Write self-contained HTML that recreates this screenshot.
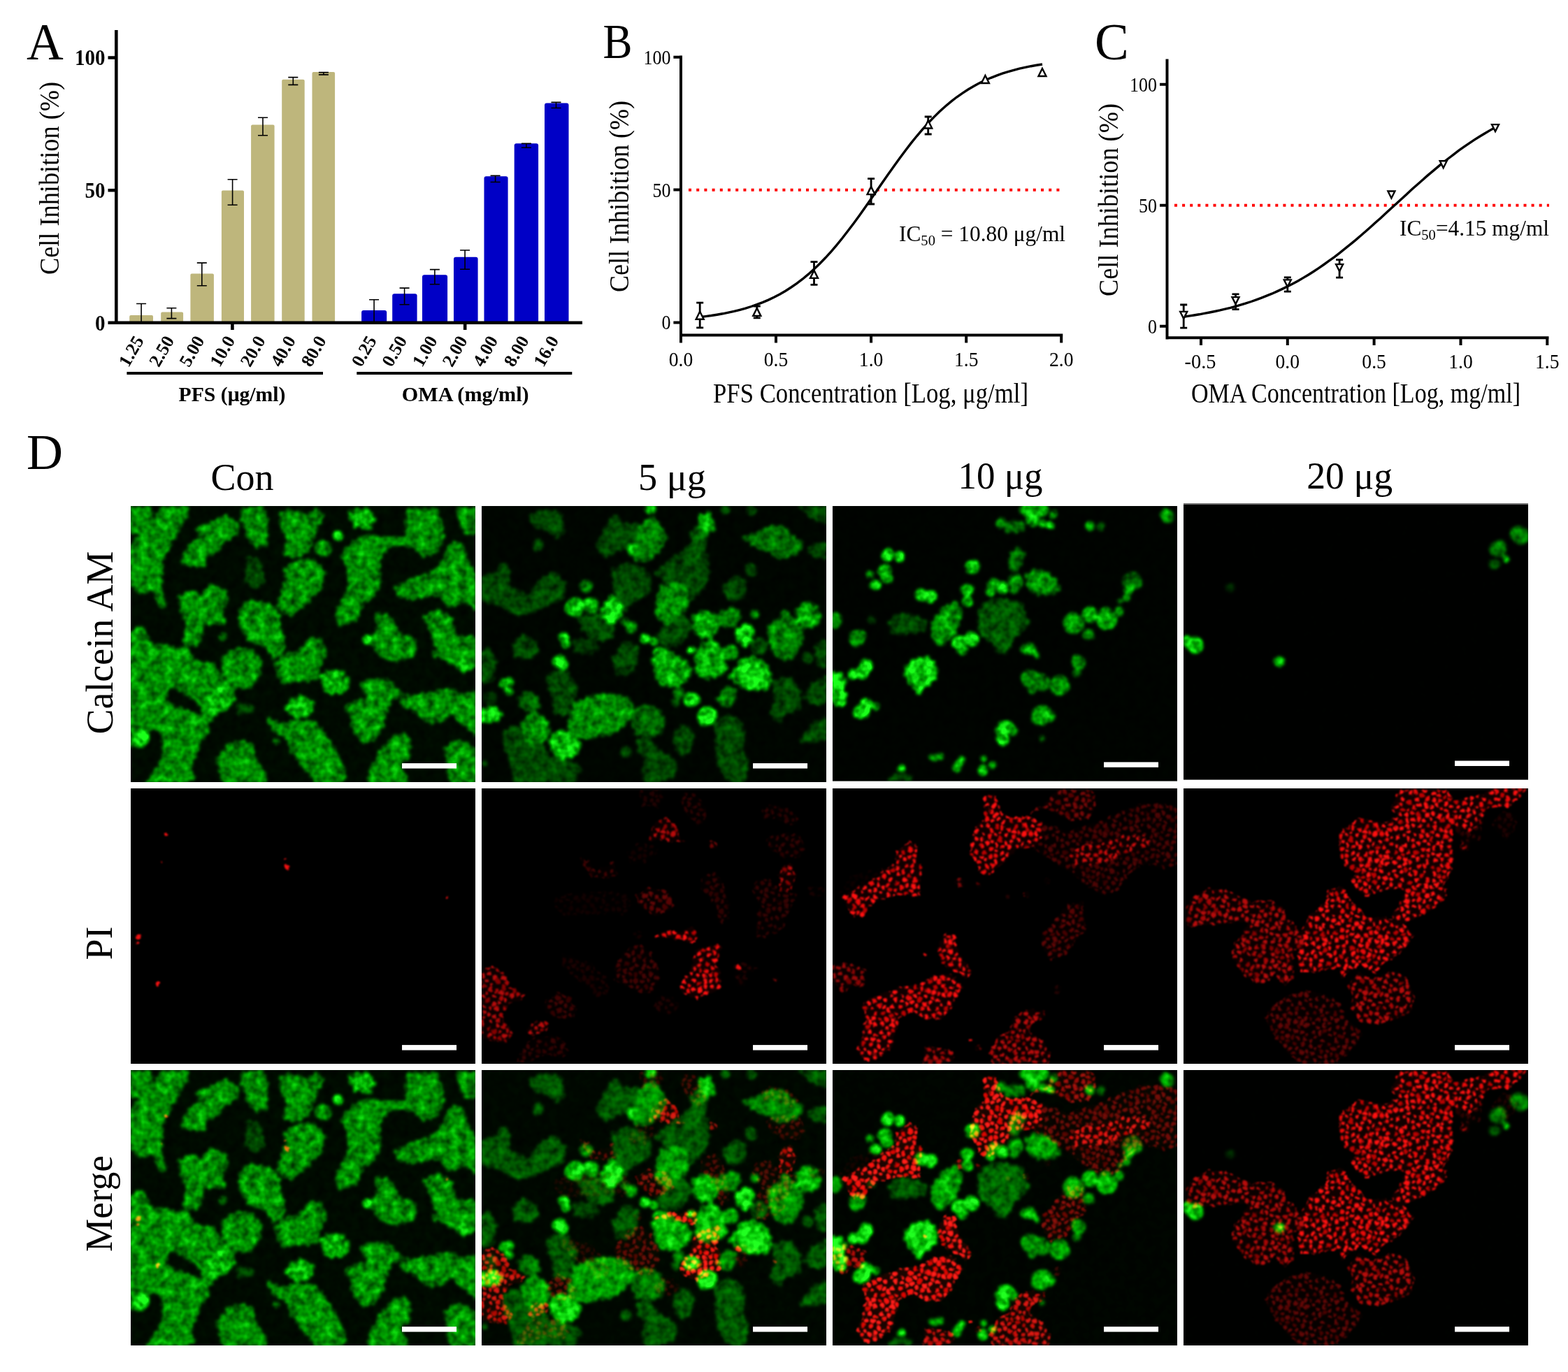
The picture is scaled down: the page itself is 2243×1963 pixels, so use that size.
<!DOCTYPE html>
<html><head><meta charset="utf-8"><title>Figure</title>
<style>html,body{margin:0;padding:0;background:#fff}body{width:2243px;height:1963px;overflow:hidden}svg{display:block}text{font-family:"Liberation Serif",serif;fill:#000}</style></head>
<body>
<svg width="2243" height="1963" viewBox="0 0 2243 1963">
<rect width="2243" height="1963" fill="#fff"/>
<g id="chartA"><rect x="185.2" y="450.9" width="33.8" height="10.9" fill="#beb67c" rx="2"/>
<rect x="230.2" y="446.6" width="31.9" height="15.2" fill="#beb67c" rx="2"/>
<rect x="272.4" y="391.6" width="33.5" height="70.2" fill="#beb67c" rx="2"/>
<rect x="316.9" y="272.5" width="32.1" height="189.3" fill="#beb67c" rx="2"/>
<rect x="359.1" y="178.6" width="33.5" height="283.2" fill="#beb67c" rx="2"/>
<rect x="403.2" y="113.7" width="32.5" height="348.1" fill="#beb67c" rx="2"/>
<rect x="446.5" y="103.1" width="32.6" height="358.7" fill="#beb67c" rx="2"/>
<rect x="517.1" y="443.9" width="36.1" height="17.9" fill="#0000c6" rx="3"/>
<rect x="561.2" y="420.2" width="35.4" height="41.6" fill="#0000c6" rx="3"/>
<rect x="604" y="393.3" width="36.1" height="68.5" fill="#0000c6" rx="3"/>
<rect x="649" y="367.8" width="34.6" height="94.0" fill="#0000c6" rx="3"/>
<rect x="692.5" y="252.2" width="34.1" height="209.6" fill="#0000c6" rx="3"/>
<rect x="735.7" y="205.2" width="34.4" height="256.6" fill="#0000c6" rx="3"/>
<rect x="779" y="147.5" width="34.5" height="314.3" fill="#0000c6" rx="3"/>
<path d="M202.1 434.5V461M195.1 434.5h14M195.1 461h14M245.4 440.8V455.6M238.4 440.8h14M238.4 455.6h14M288.8 376.1V408.7M281.8 376.1h14M281.8 408.7h14M332.6 256.8V293.2M325.6 256.8h14M325.6 293.2h14M376 168.3V193.8M369 168.3h14M369 193.8h14M419.3 110.6V121.4M412.3 110.6h14M412.3 121.4h14M462.9 103.6V106.9M455.9 103.6h14M455.9 106.9h14M535.1 428.7V461M528.1 428.7h14M528.1 461h14M578.6 412.1V435.7M571.6 412.1h14M571.6 435.7h14M621.9 385.6V406.8M614.9 385.6h14M614.9 406.8h14M665.1 358V385.2M658.1 358h14M658.1 385.2h14M708.6 251.4V260.5M701.6 251.4h14M701.6 260.5h14M752.9 205.4V211.3M745.9 205.4h14M745.9 211.3h14M795.5 146.4V154.5M788.5 146.4h14M788.5 154.5h14" stroke="#000" stroke-width="1.6" fill="none"/>
<path d="M166.3 43V464M154.5 461.8H833M154.5 82.5H166M154.5 272.3H166M332.4 461.8V472M665.2 461.8V472" stroke="#000" stroke-width="4.6" fill="none"/>
<path d="M181.4 534H462M510.3 534H818.3" stroke="#000" stroke-width="4" fill="none"/>
<text x="150.5" y="93.2" font-size="31" text-anchor="end" font-weight="bold" textLength="43.5" lengthAdjust="spacingAndGlyphs">100</text>
<text x="150.5" y="283" font-size="31" text-anchor="end" font-weight="bold" textLength="29" lengthAdjust="spacingAndGlyphs">50</text>
<text x="150.5" y="472.5" font-size="31" text-anchor="end" font-weight="bold" textLength="14.5" lengthAdjust="spacingAndGlyphs">0</text>
<text x="83.7" y="255" font-size="41" text-anchor="middle" textLength="276" lengthAdjust="spacingAndGlyphs" transform="rotate(-90 83.7 255)">Cell Inhibition (%)</text>
<text x="206.6" y="487" font-size="26" text-anchor="end" font-weight="bold" transform="rotate(-60 206.6 487)">1.25</text>
<text x="249.9" y="487" font-size="26" text-anchor="end" font-weight="bold" transform="rotate(-60 249.9 487)">2.50</text>
<text x="293.3" y="487" font-size="26" text-anchor="end" font-weight="bold" transform="rotate(-60 293.3 487)">5.00</text>
<text x="337.1" y="487" font-size="26" text-anchor="end" font-weight="bold" transform="rotate(-60 337.1 487)">10.0</text>
<text x="380.5" y="487" font-size="26" text-anchor="end" font-weight="bold" transform="rotate(-60 380.5 487)">20.0</text>
<text x="423.8" y="487" font-size="26" text-anchor="end" font-weight="bold" transform="rotate(-60 423.8 487)">40.0</text>
<text x="467.4" y="487" font-size="26" text-anchor="end" font-weight="bold" transform="rotate(-60 467.4 487)">80.0</text>
<text x="539.6" y="487" font-size="26" text-anchor="end" font-weight="bold" transform="rotate(-60 539.6 487)">0.25</text>
<text x="583.1" y="487" font-size="26" text-anchor="end" font-weight="bold" transform="rotate(-60 583.1 487)">0.50</text>
<text x="626.4" y="487" font-size="26" text-anchor="end" font-weight="bold" transform="rotate(-60 626.4 487)">1.00</text>
<text x="669.6" y="487" font-size="26" text-anchor="end" font-weight="bold" transform="rotate(-60 669.6 487)">2.00</text>
<text x="713.1" y="487" font-size="26" text-anchor="end" font-weight="bold" transform="rotate(-60 713.1 487)">4.00</text>
<text x="757.4" y="487" font-size="26" text-anchor="end" font-weight="bold" transform="rotate(-60 757.4 487)">8.00</text>
<text x="800.0" y="487" font-size="26" text-anchor="end" font-weight="bold" transform="rotate(-60 800.0 487)">16.0</text>
<text x="332" y="574" font-size="30" text-anchor="middle" font-weight="bold" textLength="153" lengthAdjust="spacingAndGlyphs">PFS (μg/ml)</text>
<text x="665.7" y="574" font-size="30" text-anchor="middle" font-weight="bold" textLength="182" lengthAdjust="spacingAndGlyphs">OMA (mg/ml)</text>
<text x="38" y="84.5" font-size="73">A</text></g>
<g id="chartB"><path d="M985 271.7H1520" stroke="#ff0000" stroke-width="4" stroke-dasharray="4 7.2" fill="none"/>
<path d="M974 79.6V481.6M974 479.5H1520.3M963.4 461.4H974M963.4 271.6H974M963.4 81.8H974M974.0 479.5V490.5M1110.0 479.5V490.5M1246.1 479.5V490.5M1382.2 479.5V490.5M1518.2 479.5V490.5" stroke="#000" stroke-width="4" fill="none"/>
<path d="M1001.2 453.6L1009.4 452.6L1017.5 451.5L1025.7 450.2L1033.9 448.8L1042.0 447.2L1050.2 445.4L1058.4 443.3L1066.5 441.1L1074.7 438.5L1082.8 435.7L1091.0 432.6L1099.2 429.1L1107.3 425.2L1115.5 420.9L1123.7 416.2L1131.8 411.0L1140.0 405.4L1148.1 399.2L1156.3 392.4L1164.5 385.1L1172.6 377.2L1180.8 368.8L1189.0 359.8L1197.1 350.3L1205.3 340.3L1213.4 329.8L1221.6 319.0L1229.8 307.7L1237.9 296.2L1246.1 284.6L1254.3 272.8L1262.4 261.0L1270.6 249.3L1278.8 237.7L1286.9 226.5L1295.1 215.5L1303.2 204.9L1311.4 194.8L1319.6 185.2L1327.7 176.1L1335.9 167.6L1344.1 159.6L1352.2 152.2L1360.4 145.4L1368.5 139.0L1376.7 133.3L1384.9 128.0L1393.0 123.2L1401.2 118.8L1409.4 114.8L1417.5 111.3L1425.7 108.1L1433.8 105.2L1442.0 102.6L1450.2 100.3L1458.3 98.2L1466.5 96.4L1474.7 94.7L1482.8 93.3L1491.0 92.0" stroke="#000" stroke-width="3.4" fill="none"/>
<path d="M1001.2 433.2V468.8M996.2 433.2h10M996.2 468.8h10M1082.8 438V454.8M1077.8 438h10M1077.8 454.8h10M1164.5 374.7V407.4M1159.5 374.7h10M1159.5 407.4h10M1246.1 255.7V292M1241.1 255.7h10M1241.1 292h10M1327.7 167V192M1322.7 167h10M1322.7 192h10" stroke="#000" stroke-width="2.8" fill="none"/>
<path d="M1001.2 445.8l5.5 11h-11zM1082.8 440.9l5.5 11h-11zM1164.5 386.9l5.5 11h-11zM1246.1 267.1l5.5 11h-11zM1327.7 172.5l5.5 11h-11zM1409.4 108.0l5.5 11h-11zM1491.0 98.0l5.5 11h-11z" stroke="#000" stroke-width="2.4" fill="#fff" stroke-linejoin="miter"/>
<text x="959.5" y="91.8" font-size="29" text-anchor="end" textLength="39" lengthAdjust="spacingAndGlyphs">100</text>
<text x="959.5" y="281.6" font-size="29" text-anchor="end" textLength="26" lengthAdjust="spacingAndGlyphs">50</text>
<text x="959.5" y="471.4" font-size="29" text-anchor="end" textLength="13" lengthAdjust="spacingAndGlyphs">0</text>
<text x="974.0" y="523.6" font-size="30" text-anchor="middle" textLength="34.5" lengthAdjust="spacingAndGlyphs">0.0</text>
<text x="1110.0" y="523.6" font-size="30" text-anchor="middle" textLength="34.5" lengthAdjust="spacingAndGlyphs">0.5</text>
<text x="1246.1" y="523.6" font-size="30" text-anchor="middle" textLength="34.5" lengthAdjust="spacingAndGlyphs">1.0</text>
<text x="1382.2" y="523.6" font-size="30" text-anchor="middle" textLength="34.5" lengthAdjust="spacingAndGlyphs">1.5</text>
<text x="1518.2" y="523.6" font-size="30" text-anchor="middle" textLength="34.5" lengthAdjust="spacingAndGlyphs">2.0</text>
<text x="1245.5" y="575.6" font-size="39" text-anchor="middle" textLength="451" lengthAdjust="spacingAndGlyphs">PFS Concentration [Log, μg/ml]</text>
<text x="899" y="281" font-size="41" text-anchor="middle" textLength="274" lengthAdjust="spacingAndGlyphs" transform="rotate(-90 899 281)">Cell Inhibition (%)</text>
<text x="1286" y="344.5" font-size="32" textLength="238" lengthAdjust="spacingAndGlyphs">IC<tspan font-size="21" dy="6">50</tspan><tspan dy="-6"> = 10.80 μg/ml</tspan></text>
<text x="862.5" y="82.5" font-size="70" textLength="42" lengthAdjust="spacingAndGlyphs">B</text></g>
<g id="chartC"><path d="M1680 293.7H2216" stroke="#ff0000" stroke-width="4" stroke-dasharray="4 7.1" fill="none"/>
<path d="M1669.5 84.5V485.40000000000003M1669.5 483.3H2215.5M1659 466.7H1669.5M1659 293.7H1669.5M1659 120.7H1669.5M1718.0 483.3V494M1841.8 483.3V494M1965.6 483.3V494M2089.5 483.3V494M2213.3 483.3V494" stroke="#000" stroke-width="4" fill="none"/>
<path d="M1693.2 453.2L1700.6 452.1L1708.0 451.0L1715.5 449.8L1722.9 448.4L1730.3 447.0L1737.8 445.5L1745.2 443.9L1752.6 442.1L1760.1 440.3L1767.5 438.3L1774.9 436.2L1782.4 433.9L1789.8 431.5L1797.2 428.9L1804.6 426.2L1812.1 423.2L1819.5 420.2L1826.9 416.9L1834.4 413.4L1841.8 409.8L1849.2 405.9L1856.7 401.9L1864.1 397.6L1871.5 393.2L1879.0 388.5L1886.4 383.6L1893.8 378.5L1901.2 373.2L1908.7 367.8L1916.1 362.1L1923.5 356.2L1931.0 350.2L1938.4 344.1L1945.8 337.7L1953.3 331.3L1960.7 324.7L1968.1 318.1L1975.6 311.4L1983.0 304.6L1990.4 297.8L1997.9 291.0L2005.3 284.2L2012.7 277.4L2020.1 270.6L2027.6 264.0L2035.0 257.4L2042.4 250.9L2049.9 244.6L2057.3 238.4L2064.7 232.3L2072.2 226.5L2079.6 220.8L2087.0 215.2L2094.5 209.9L2101.9 204.8L2109.3 199.9L2116.7 195.2L2124.2 190.7L2131.6 186.4L2139.0 182.3" stroke="#000" stroke-width="3.4" fill="none"/>
<path d="M1693.2 436V469.2M1688.2 436h10M1688.2 469.2h10M1767.5 420.9V442.6M1762.5 420.9h10M1762.5 442.6h10M1841.8 396.8V417.1M1836.8 396.8h10M1836.8 417.1h10M1916.1 371.6V397.1M1911.1 371.6h10M1911.1 397.1h10" stroke="#000" stroke-width="2.8" fill="none"/>
<path d="M1693.2 455.9l5 -10h-10zM1767.5 435.1l5 -10h-10zM1841.8 410.4l5 -10h-10zM1916.1 388.1l5 -10h-10zM1990.4 283.5l5 -10h-10zM2064.7 240.2l5 -10h-10zM2139.0 188.1l5 -10h-10z" stroke="#000" stroke-width="2.4" fill="#fff" stroke-linejoin="miter"/>
<text x="1655" y="130.7" font-size="29" text-anchor="end" textLength="39" lengthAdjust="spacingAndGlyphs">100</text>
<text x="1655" y="303.7" font-size="29" text-anchor="end" textLength="26" lengthAdjust="spacingAndGlyphs">50</text>
<text x="1655" y="476.7" font-size="29" text-anchor="end" textLength="13" lengthAdjust="spacingAndGlyphs">0</text>
<text x="1717.0" y="527.2" font-size="30" text-anchor="middle" textLength="45" lengthAdjust="spacingAndGlyphs">-0.5</text>
<text x="1841.8" y="527.2" font-size="30" text-anchor="middle" textLength="34.5" lengthAdjust="spacingAndGlyphs">0.0</text>
<text x="1965.6" y="527.2" font-size="30" text-anchor="middle" textLength="34.5" lengthAdjust="spacingAndGlyphs">0.5</text>
<text x="2089.5" y="527.2" font-size="30" text-anchor="middle" textLength="34.5" lengthAdjust="spacingAndGlyphs">1.0</text>
<text x="2213.3" y="527.2" font-size="30" text-anchor="middle" textLength="34.5" lengthAdjust="spacingAndGlyphs">1.5</text>
<text x="1939.5" y="575.6" font-size="39" text-anchor="middle" textLength="471" lengthAdjust="spacingAndGlyphs">OMA Concentration [Log, mg/ml]</text>
<text x="1598.5" y="286" font-size="41" text-anchor="middle" textLength="276" lengthAdjust="spacingAndGlyphs" transform="rotate(-90 1598.5 286)">Cell Inhibition (%)</text>
<text x="2002" y="337" font-size="32" textLength="214" lengthAdjust="spacingAndGlyphs">IC<tspan font-size="21" dy="6">50</tspan><tspan dy="-6">=4.15 mg/ml</tspan></text>
<text x="1566" y="84.5" font-size="73">C</text></g>
<g id="labelsD"><text x="38" y="671" font-size="72">D</text>
<text x="346.5" y="701" font-size="54" text-anchor="middle">Con</text>
<text x="961.5" y="701" font-size="54" text-anchor="middle" textLength="97" lengthAdjust="spacingAndGlyphs">5 μg</text>
<text x="1431" y="699" font-size="54" text-anchor="middle" textLength="121" lengthAdjust="spacingAndGlyphs">10 μg</text>
<text x="1930.7" y="699" font-size="54" text-anchor="middle" textLength="123" lengthAdjust="spacingAndGlyphs">20 μg</text>
<text x="161" y="919.5" font-size="54" text-anchor="middle" textLength="262" lengthAdjust="spacingAndGlyphs" transform="rotate(-90 161 919.5)">Calcein AM</text>
<text x="160" y="1349.5" font-size="54" text-anchor="middle" transform="rotate(-90 160 1349.5)">PI</text>
<text x="160" y="1722" font-size="54" text-anchor="middle" textLength="138" lengthAdjust="spacingAndGlyphs" transform="rotate(-90 160 1722)">Merge</text></g>
<defs><pattern id="rd" width="480" height="480" patternUnits="userSpaceOnUse"><rect width="480" height="480" fill="#100000"/><path d="M432 224a11 11 0 1 0 23 0a11 11 0 1 0 -23 0M32 146a13 13 0 1 0 26 0a13 13 0 1 0 -26 0M32 389a11 11 0 1 0 23 0a11 11 0 1 0 -23 0M320 20a13 13 0 1 0 26 0a13 13 0 1 0 -26 0M303 295a11 11 0 1 0 21 0a11 11 0 1 0 -21 0M207 134a12 12 0 1 0 25 0a12 12 0 1 0 -25 0M140 110a11 11 0 1 0 22 0a11 11 0 1 0 -22 0M127 34a12 12 0 1 0 23 0a12 12 0 1 0 -23 0M354 192a14 14 0 1 0 27 0a14 14 0 1 0 -27 0M395 186a11 11 0 1 0 22 0a11 11 0 1 0 -22 0M-13 101a14 14 0 1 0 27 0a14 14 0 1 0 -27 0M467 101a14 14 0 1 0 27 0a14 14 0 1 0 -27 0M-21 191a12 12 0 1 0 24 0a12 12 0 1 0 -24 0M459 191a12 12 0 1 0 24 0a12 12 0 1 0 -24 0M35 29a14 14 0 1 0 28 0a14 14 0 1 0 -28 0M80 351a12 12 0 1 0 23 0a12 12 0 1 0 -23 0M45 202a11 11 0 1 0 22 0a11 11 0 1 0 -22 0M132 425a14 14 0 1 0 27 0a14 14 0 1 0 -27 0M400 308a10 10 0 1 0 21 0a10 10 0 1 0 -21 0M107 91a13 13 0 1 0 26 0a13 13 0 1 0 -26 0M344 451a11 11 0 1 0 21 0a11 11 0 1 0 -21 0M81 456a13 13 0 1 0 27 0a13 13 0 1 0 -27 0M192 50a11 11 0 1 0 21 0a11 11 0 1 0 -21 0M276 141a10 10 0 1 0 21 0a10 10 0 1 0 -21 0M22 110a11 11 0 1 0 23 0a11 11 0 1 0 -23 0M429 98a11 11 0 1 0 22 0a11 11 0 1 0 -22 0M262 63a12 12 0 1 0 25 0a12 12 0 1 0 -25 0M-21 315a12 12 0 1 0 24 0a12 12 0 1 0 -24 0M459 315a12 12 0 1 0 24 0a12 12 0 1 0 -24 0M-2 437a11 11 0 1 0 21 0a11 11 0 1 0 -21 0M478 437a11 11 0 1 0 21 0a11 11 0 1 0 -21 0M343 338a11 11 0 1 0 21 0a11 11 0 1 0 -21 0M159 329a10 10 0 1 0 20 0a10 10 0 1 0 -20 0M404 275a10 10 0 1 0 20 0a10 10 0 1 0 -20 0M290 184a10 10 0 1 0 21 0a10 10 0 1 0 -21 0M268 292a11 11 0 1 0 22 0a11 11 0 1 0 -22 0M343 279a10 10 0 1 0 20 0a10 10 0 1 0 -20 0M323 239a13 13 0 1 0 25 0a13 13 0 1 0 -25 0M282 442a13 13 0 1 0 26 0a13 13 0 1 0 -26 0M392 407a10 10 0 1 0 21 0a10 10 0 1 0 -21 0M287 237a13 13 0 1 0 26 0a13 13 0 1 0 -26 0M205 12a13 13 0 1 0 27 0a13 13 0 1 0 -27 0M205 492a13 13 0 1 0 27 0a13 13 0 1 0 -27 0M117 166a14 14 0 1 0 27 0a14 14 0 1 0 -27 0M178 380a11 11 0 1 0 21 0a11 11 0 1 0 -21 0M167 273a14 14 0 1 0 27 0a14 14 0 1 0 -27 0M298 344a10 10 0 1 0 20 0a10 10 0 1 0 -20 0M378 31a10 10 0 1 0 21 0a10 10 0 1 0 -21 0M264 96a11 11 0 1 0 21 0a11 11 0 1 0 -21 0M280 13a11 11 0 1 0 22 0a11 11 0 1 0 -22 0M280 493a11 11 0 1 0 22 0a11 11 0 1 0 -22 0M319 155a10 10 0 1 0 21 0a10 10 0 1 0 -21 0M413 64a13 13 0 1 0 27 0a13 13 0 1 0 -27 0M418 422a12 12 0 1 0 24 0a12 12 0 1 0 -24 0M175 431a13 13 0 1 0 25 0a13 13 0 1 0 -25 0M238 450a13 13 0 1 0 26 0a13 13 0 1 0 -26 0M201 321a11 11 0 1 0 23 0a11 11 0 1 0 -23 0M362 255a12 12 0 1 0 24 0a12 12 0 1 0 -24 0M44 428a11 11 0 1 0 22 0a11 11 0 1 0 -22 0M364 300a12 12 0 1 0 24 0a12 12 0 1 0 -24 0M193 177a12 12 0 1 0 24 0a12 12 0 1 0 -24 0M90 318a12 12 0 1 0 24 0a12 12 0 1 0 -24 0M220 225a10 10 0 1 0 21 0a10 10 0 1 0 -21 0M62 399a14 14 0 1 0 28 0a14 14 0 1 0 -28 0M-5 159a14 14 0 1 0 28 0a14 14 0 1 0 -28 0M475 159a14 14 0 1 0 28 0a14 14 0 1 0 -28 0M228 190a13 13 0 1 0 26 0a13 13 0 1 0 -26 0M330 65a12 12 0 1 0 24 0a12 12 0 1 0 -24 0M-17 16a11 11 0 1 0 22 0a11 11 0 1 0 -22 0M463 16a11 11 0 1 0 22 0a11 11 0 1 0 -22 0M18 184a10 10 0 1 0 21 0a10 10 0 1 0 -21 0M61 280a11 11 0 1 0 23 0a11 11 0 1 0 -23 0M39 69a11 11 0 1 0 23 0a11 11 0 1 0 -23 0M65 168a14 14 0 1 0 28 0a14 14 0 1 0 -28 0M7 335a10 10 0 1 0 21 0a10 10 0 1 0 -21 0M241 161a11 11 0 1 0 22 0a11 11 0 1 0 -22 0M396 223a10 10 0 1 0 20 0a10 10 0 1 0 -20 0M426 325a13 13 0 1 0 27 0a13 13 0 1 0 -27 0M313 465a11 11 0 1 0 22 0a11 11 0 1 0 -22 0M378 -5a12 12 0 1 0 24 0a12 12 0 1 0 -24 0M378 475a12 12 0 1 0 24 0a12 12 0 1 0 -24 0M239 128a13 13 0 1 0 25 0a13 13 0 1 0 -25 0M-4 277a12 12 0 1 0 24 0a12 12 0 1 0 -24 0M476 277a12 12 0 1 0 24 0a12 12 0 1 0 -24 0M59 326a12 12 0 1 0 23 0a12 12 0 1 0 -23 0M54 97a12 12 0 1 0 23 0a12 12 0 1 0 -23 0M133 304a12 12 0 1 0 24 0a12 12 0 1 0 -24 0M3 370a11 11 0 1 0 22 0a11 11 0 1 0 -22 0M483 370a11 11 0 1 0 22 0a11 11 0 1 0 -22 0M232 410a13 13 0 1 0 25 0a13 13 0 1 0 -25 0M354 160a11 11 0 1 0 23 0a11 11 0 1 0 -23 0M174 7a10 10 0 1 0 20 0a10 10 0 1 0 -20 0M174 487a10 10 0 1 0 20 0a10 10 0 1 0 -20 0M347 421a14 14 0 1 0 28 0a14 14 0 1 0 -28 0M235 274a13 13 0 1 0 26 0a13 13 0 1 0 -26 0M183 111a10 10 0 1 0 21 0a10 10 0 1 0 -21 0M228 57a12 12 0 1 0 25 0a12 12 0 1 0 -25 0M209 435a14 14 0 1 0 27 0a14 14 0 1 0 -27 0M358 224a11 11 0 1 0 23 0a11 11 0 1 0 -23 0M292 113a10 10 0 1 0 21 0a10 10 0 1 0 -21 0M324 363a11 11 0 1 0 21 0a11 11 0 1 0 -21 0M104 257a14 14 0 1 0 28 0a14 14 0 1 0 -28 0" fill="#ff1010"/><path d="M205 269a12 12 0 1 0 23 0a12 12 0 1 0 -23 0M75 246a13 13 0 1 0 27 0a13 13 0 1 0 -27 0M-20 463a12 12 0 1 0 23 0a12 12 0 1 0 -23 0M460 463a12 12 0 1 0 23 0a12 12 0 1 0 -23 0M243 29a10 10 0 1 0 21 0a10 10 0 1 0 -21 0M79 116a12 12 0 1 0 24 0a12 12 0 1 0 -24 0M199 404a12 12 0 1 0 24 0a12 12 0 1 0 -24 0M238 307a11 11 0 1 0 22 0a11 11 0 1 0 -22 0M390 340a13 13 0 1 0 27 0a13 13 0 1 0 -27 0M447 407a13 13 0 1 0 26 0a13 13 0 1 0 -26 0M362 129a12 12 0 1 0 24 0a12 12 0 1 0 -24 0M449 364a14 14 0 1 0 28 0a14 14 0 1 0 -28 0M258 215a11 11 0 1 0 22 0a11 11 0 1 0 -22 0M103 289a14 14 0 1 0 28 0a14 14 0 1 0 -28 0M166 218a13 13 0 1 0 25 0a13 13 0 1 0 -25 0M77 74a11 11 0 1 0 22 0a11 11 0 1 0 -22 0M110 395a13 13 0 1 0 27 0a13 13 0 1 0 -27 0M221 351a10 10 0 1 0 20 0a10 10 0 1 0 -20 0M142 -0a11 11 0 1 0 22 0a11 11 0 1 0 -22 0M142 480a11 11 0 1 0 22 0a11 11 0 1 0 -22 0M26 262a10 10 0 1 0 21 0a10 10 0 1 0 -21 0M375 439a12 12 0 1 0 24 0a12 12 0 1 0 -24 0M407 20a12 12 0 1 0 23 0a12 12 0 1 0 -23 0M-3 65a13 13 0 1 0 25 0a13 13 0 1 0 -25 0M477 65a13 13 0 1 0 25 0a13 13 0 1 0 -25 0M317 96a12 12 0 1 0 24 0a12 12 0 1 0 -24 0M215 86a13 13 0 1 0 26 0a13 13 0 1 0 -26 0M247 380a10 10 0 1 0 21 0a10 10 0 1 0 -21 0M127 350a12 12 0 1 0 25 0a12 12 0 1 0 -25 0M451 252a14 14 0 1 0 28 0a14 14 0 1 0 -28 0M37 351a13 13 0 1 0 26 0a13 13 0 1 0 -26 0M397 112a14 14 0 1 0 28 0a14 14 0 1 0 -28 0M252 247a13 13 0 1 0 26 0a13 13 0 1 0 -26 0M165 137a10 10 0 1 0 20 0a10 10 0 1 0 -20 0M139 192a14 14 0 1 0 27 0a14 14 0 1 0 -27 0M139 263a11 11 0 1 0 21 0a11 11 0 1 0 -21 0M266 335a11 11 0 1 0 21 0a11 11 0 1 0 -21 0M425 464a13 13 0 1 0 26 0a13 13 0 1 0 -26 0M306 416a13 13 0 1 0 26 0a13 13 0 1 0 -26 0M367 380a10 10 0 1 0 21 0a10 10 0 1 0 -21 0M292 43a12 12 0 1 0 24 0a12 12 0 1 0 -24 0M86 423a12 12 0 1 0 24 0a12 12 0 1 0 -24 0M109 130a12 12 0 1 0 25 0a12 12 0 1 0 -25 0M453 134a12 12 0 1 0 25 0a12 12 0 1 0 -25 0M96 11a11 11 0 1 0 23 0a11 11 0 1 0 -23 0M96 491a11 11 0 1 0 23 0a11 11 0 1 0 -23 0M441 286a12 12 0 1 0 23 0a12 12 0 1 0 -23 0M117 457a14 14 0 1 0 27 0a14 14 0 1 0 -27 0M141 380a14 14 0 1 0 28 0a14 14 0 1 0 -28 0M38 233a13 13 0 1 0 25 0a13 13 0 1 0 -25 0M1 402a11 11 0 1 0 22 0a11 11 0 1 0 -22 0M481 402a11 11 0 1 0 22 0a11 11 0 1 0 -22 0M390 148a10 10 0 1 0 21 0a10 10 0 1 0 -21 0M65 45a11 11 0 1 0 22 0a11 11 0 1 0 -22 0M426 184a13 13 0 1 0 25 0a13 13 0 1 0 -25 0M163 169a12 12 0 1 0 24 0a12 12 0 1 0 -24 0" fill="#e80808"/><path d="M291 381a11 11 0 1 0 23 0a11 11 0 1 0 -23 0M64 7a12 12 0 1 0 23 0a12 12 0 1 0 -23 0M64 487a12 12 0 1 0 23 0a12 12 0 1 0 -23 0M4 223a11 11 0 1 0 21 0a11 11 0 1 0 -21 0M22 302a13 13 0 1 0 25 0a13 13 0 1 0 -25 0M369 85a13 13 0 1 0 27 0a13 13 0 1 0 -27 0M87 189a14 14 0 1 0 27 0a14 14 0 1 0 -27 0M266 416a10 10 0 1 0 20 0a10 10 0 1 0 -20 0M408 382a14 14 0 1 0 28 0a14 14 0 1 0 -28 0M334 393a12 12 0 1 0 24 0a12 12 0 1 0 -24 0M442 41a14 14 0 1 0 28 0a14 14 0 1 0 -28 0M117 227a13 13 0 1 0 25 0a13 13 0 1 0 -25 0M421 152a13 13 0 1 0 25 0a13 13 0 1 0 -25 0M167 80a13 13 0 1 0 26 0a13 13 0 1 0 -26 0M32 -8a11 11 0 1 0 21 0a11 11 0 1 0 -21 0M32 472a11 11 0 1 0 21 0a11 11 0 1 0 -21 0M327 125a12 12 0 1 0 25 0a12 12 0 1 0 -25 0M318 201a12 12 0 1 0 24 0a12 12 0 1 0 -24 0M194 462a12 12 0 1 0 25 0a12 12 0 1 0 -25 0M95 48a12 12 0 1 0 24 0a12 12 0 1 0 -24 0M157 39a13 13 0 1 0 25 0a13 13 0 1 0 -25 0M347 5a13 13 0 1 0 27 0a13 13 0 1 0 -27 0M347 485a13 13 0 1 0 27 0a13 13 0 1 0 -27 0M128 66a12 12 0 1 0 24 0a12 12 0 1 0 -24 0M181 245a13 13 0 1 0 25 0a13 13 0 1 0 -25 0M183 349a13 13 0 1 0 26 0a13 13 0 1 0 -26 0" fill="#b80000"/></pattern><filter id="gf" x="0" y="0" width="100%" height="100%" filterUnits="objectBoundingBox" color-interpolation-filters="sRGB"><feTurbulence type="fractalNoise" baseFrequency="0.012" numOctaves="1" seed="3" result="n"/><feDisplacementMap in="SourceGraphic" in2="n" scale="32" xChannelSelector="R" yChannelSelector="G" result="d"/><feGaussianBlur in="d" stdDeviation="8" result="b"/><feTurbulence type="fractalNoise" baseFrequency="0.02" numOctaves="2" seed="11" result="n2"/><feColorMatrix in="n2" type="matrix" values="0 1 0 0 0  0 1 0 0 0  0 1 0 0 0  0 0 0 0 1" result="m"/><feComposite in="b" in2="m" operator="arithmetic" k1="1.7" k2="0.25" k3="0" k4="0" result="t"/><feColorMatrix in="t" type="matrix" values="0 0.3 0 0 -0.2  0 1 0 0 0  0 0.3 0 0 -0.2  0 0 0 0 1"/></filter><filter id="rf" x="0" y="0" width="100%" height="100%" filterUnits="objectBoundingBox" color-interpolation-filters="sRGB"><feTurbulence type="fractalNoise" baseFrequency="0.03" numOctaves="2" seed="5" result="n"/><feDisplacementMap in="SourceGraphic" in2="n" scale="30" xChannelSelector="R" yChannelSelector="G" result="d"/><feGaussianBlur in="d" stdDeviation="4.2"/></filter></defs>
<svg x="187" y="724" width="493" height="395" viewBox="0 0 2048 1641" preserveAspectRatio="none"><rect width="2048" height="1641" fill="#000"/><g id="Lg1" filter="url(#gf)"><rect x="-80" y="-80" width="2208" height="1801" fill="#000900"/><g fill="#004000" stroke="#004000" stroke-linecap="round" stroke-linejoin="round"><path d="M700 310L760 320L790 440L730 490L690 440ZM640 1180L720 1185L720 1220L640 1225Z" stroke-width="6"/><path d="M700 310L760 320L790 440L730 490L690 440ZM640 1180L720 1185L720 1220L640 1225Z" fill="none" stroke-width="28" stroke-dasharray="0 47"/><path d="M700 310L760 320L790 440L730 490L690 440ZM640 1180L720 1185L720 1220L640 1225Z" fill="none" stroke-width="22" stroke-dasharray="0 71" stroke-dashoffset="30"/></g><g fill="#008000" stroke="#008000" stroke-linecap="round" stroke-linejoin="round"><path d="M1450 200L1660 220" fill="none" stroke-width="50"/><path d="M0 10L110 10L120 60L100 130L40 160L0 150ZM200 10L335 10L330 60L260 190L250 200L180 330L175 500L210 570L190 600L160 560L130 500L60 510L0 460L0 260L40 200L150 60ZM560 60L630 100L620 160L540 220L520 260L440 300L430 360L380 350L310 330L330 270L420 170L400 125L470 110ZM670 20L780 10L810 100L800 220L750 240L700 170L660 80ZM900 50L960 30L1040 70L1110 20L1140 60L1080 180L1060 250L990 300L920 280L930 180L900 120ZM1290 250L1400 180L1560 200L1480 300L1470 480L1400 560L1330 680L1240 700L1230 620L1300 520L1300 400L1270 300ZM1650 30L1820 20L1850 170L1810 280L1740 300L1650 200L1640 100ZM1570 480L1650 450L1830 380L1900 230L1960 230L2000 330L2048 420L2048 600L1990 560L1900 600L1850 540L1760 520L1680 550L1600 530ZM1950 20L2048 20L2048 150L2000 160L1960 100ZM920 380L980 330L1100 330L1150 400L1130 480L1060 560L1000 600L940 650L880 600L900 520L930 450ZM290 540L350 510L420 540L470 470L560 500L570 560L530 610L550 690L430 700L420 760L400 830L320 820L340 700L300 620ZM650 620L700 570L830 590L880 650L880 720L910 800L900 870L850 900L790 830L700 780L650 700ZM1470 650L1530 660L1590 760L1680 790L1690 870L1640 900L1560 920L1480 880L1440 800L1460 720ZM1750 660L1830 620L1900 660L1920 770L2048 790L2048 960L1980 980L1900 930L1830 880L1790 760ZM0 760L60 720L130 830L220 840L330 850L380 930L480 940L540 1020L600 1080L610 1140L540 1210L460 1280L420 1180L330 1100L220 1060L200 1150L250 1200L430 1250L460 1350L400 1400L380 1480L350 1560L380 1620L300 1641L100 1641L200 1500L180 1320L100 1330L80 1420L0 1420ZM560 900L620 850L720 860L770 920L760 1010L700 1080L620 1070L550 1000ZM870 940L930 880L1000 880L1060 790L1130 800L1150 870L1120 960L1090 1020L980 1040L920 1050L880 1000ZM1380 1060L1450 1030L1530 1040L1590 1110L1520 1200L1500 1300L1450 1380L1380 1400L1330 1330L1320 1250L1270 1200L1330 1170L1420 1150ZM1600 1120L1700 1130L1800 1110L1900 1090L1960 1130L2048 1110L2048 1350L1990 1300L1900 1220L1850 1280L1780 1290L1700 1230L1620 1190ZM820 1270L900 1300L980 1280L1100 1290L1150 1360L1200 1440L1240 1520L1280 1600L1250 1641L1100 1641L1050 1560L960 1470L940 1380L860 1340ZM520 1500L570 1430L650 1400L720 1430L740 1520L800 1600L800 1641L560 1641L530 1580ZM1480 1470L1570 1370L1640 1360L1660 1420L1600 1530L1640 1641L1420 1641L1430 1560ZM1870 1440L1920 1400L2000 1420L2048 1460L2048 1641L1900 1641L1880 1540Z" stroke-width="6"/><path d="M0 10L110 10L120 60L100 130L40 160L0 150ZM200 10L335 10L330 60L260 190L250 200L180 330L175 500L210 570L190 600L160 560L130 500L60 510L0 460L0 260L40 200L150 60ZM560 60L630 100L620 160L540 220L520 260L440 300L430 360L380 350L310 330L330 270L420 170L400 125L470 110ZM670 20L780 10L810 100L800 220L750 240L700 170L660 80ZM900 50L960 30L1040 70L1110 20L1140 60L1080 180L1060 250L990 300L920 280L930 180L900 120ZM1290 250L1400 180L1560 200L1480 300L1470 480L1400 560L1330 680L1240 700L1230 620L1300 520L1300 400L1270 300ZM1650 30L1820 20L1850 170L1810 280L1740 300L1650 200L1640 100ZM1570 480L1650 450L1830 380L1900 230L1960 230L2000 330L2048 420L2048 600L1990 560L1900 600L1850 540L1760 520L1680 550L1600 530ZM1950 20L2048 20L2048 150L2000 160L1960 100ZM920 380L980 330L1100 330L1150 400L1130 480L1060 560L1000 600L940 650L880 600L900 520L930 450ZM290 540L350 510L420 540L470 470L560 500L570 560L530 610L550 690L430 700L420 760L400 830L320 820L340 700L300 620ZM650 620L700 570L830 590L880 650L880 720L910 800L900 870L850 900L790 830L700 780L650 700ZM1470 650L1530 660L1590 760L1680 790L1690 870L1640 900L1560 920L1480 880L1440 800L1460 720ZM1750 660L1830 620L1900 660L1920 770L2048 790L2048 960L1980 980L1900 930L1830 880L1790 760ZM0 760L60 720L130 830L220 840L330 850L380 930L480 940L540 1020L600 1080L610 1140L540 1210L460 1280L420 1180L330 1100L220 1060L200 1150L250 1200L430 1250L460 1350L400 1400L380 1480L350 1560L380 1620L300 1641L100 1641L200 1500L180 1320L100 1330L80 1420L0 1420ZM560 900L620 850L720 860L770 920L760 1010L700 1080L620 1070L550 1000ZM870 940L930 880L1000 880L1060 790L1130 800L1150 870L1120 960L1090 1020L980 1040L920 1050L880 1000ZM1380 1060L1450 1030L1530 1040L1590 1110L1520 1200L1500 1300L1450 1380L1380 1400L1330 1330L1320 1250L1270 1200L1330 1170L1420 1150ZM1600 1120L1700 1130L1800 1110L1900 1090L1960 1130L2048 1110L2048 1350L1990 1300L1900 1220L1850 1280L1780 1290L1700 1230L1620 1190ZM820 1270L900 1300L980 1280L1100 1290L1150 1360L1200 1440L1240 1520L1280 1600L1250 1641L1100 1641L1050 1560L960 1470L940 1380L860 1340ZM520 1500L570 1430L650 1400L720 1430L740 1520L800 1600L800 1641L560 1641L530 1580ZM1480 1470L1570 1370L1640 1360L1660 1420L1600 1530L1640 1641L1420 1641L1430 1560ZM1870 1440L1920 1400L2000 1420L2048 1460L2048 1641L1900 1641L1880 1540Z" fill="none" stroke-width="28" stroke-dasharray="0 47"/><path d="M0 10L110 10L120 60L100 130L40 160L0 150ZM200 10L335 10L330 60L260 190L250 200L180 330L175 500L210 570L190 600L160 560L130 500L60 510L0 460L0 260L40 200L150 60ZM560 60L630 100L620 160L540 220L520 260L440 300L430 360L380 350L310 330L330 270L420 170L400 125L470 110ZM670 20L780 10L810 100L800 220L750 240L700 170L660 80ZM900 50L960 30L1040 70L1110 20L1140 60L1080 180L1060 250L990 300L920 280L930 180L900 120ZM1290 250L1400 180L1560 200L1480 300L1470 480L1400 560L1330 680L1240 700L1230 620L1300 520L1300 400L1270 300ZM1650 30L1820 20L1850 170L1810 280L1740 300L1650 200L1640 100ZM1570 480L1650 450L1830 380L1900 230L1960 230L2000 330L2048 420L2048 600L1990 560L1900 600L1850 540L1760 520L1680 550L1600 530ZM1950 20L2048 20L2048 150L2000 160L1960 100ZM920 380L980 330L1100 330L1150 400L1130 480L1060 560L1000 600L940 650L880 600L900 520L930 450ZM290 540L350 510L420 540L470 470L560 500L570 560L530 610L550 690L430 700L420 760L400 830L320 820L340 700L300 620ZM650 620L700 570L830 590L880 650L880 720L910 800L900 870L850 900L790 830L700 780L650 700ZM1470 650L1530 660L1590 760L1680 790L1690 870L1640 900L1560 920L1480 880L1440 800L1460 720ZM1750 660L1830 620L1900 660L1920 770L2048 790L2048 960L1980 980L1900 930L1830 880L1790 760ZM0 760L60 720L130 830L220 840L330 850L380 930L480 940L540 1020L600 1080L610 1140L540 1210L460 1280L420 1180L330 1100L220 1060L200 1150L250 1200L430 1250L460 1350L400 1400L380 1480L350 1560L380 1620L300 1641L100 1641L200 1500L180 1320L100 1330L80 1420L0 1420ZM560 900L620 850L720 860L770 920L760 1010L700 1080L620 1070L550 1000ZM870 940L930 880L1000 880L1060 790L1130 800L1150 870L1120 960L1090 1020L980 1040L920 1050L880 1000ZM1380 1060L1450 1030L1530 1040L1590 1110L1520 1200L1500 1300L1450 1380L1380 1400L1330 1330L1320 1250L1270 1200L1330 1170L1420 1150ZM1600 1120L1700 1130L1800 1110L1900 1090L1960 1130L2048 1110L2048 1350L1990 1300L1900 1220L1850 1280L1780 1290L1700 1230L1620 1190ZM820 1270L900 1300L980 1280L1100 1290L1150 1360L1200 1440L1240 1520L1280 1600L1250 1641L1100 1641L1050 1560L960 1470L940 1380L860 1340ZM520 1500L570 1430L650 1400L720 1430L740 1520L800 1600L800 1641L560 1641L530 1580ZM1480 1470L1570 1370L1640 1360L1660 1420L1600 1530L1640 1641L1420 1641L1430 1560ZM1870 1440L1920 1400L2000 1420L2048 1460L2048 1641L1900 1641L1880 1540Z" fill="none" stroke-width="22" stroke-dasharray="0 71" stroke-dashoffset="30"/><path d="M1095 255a50 50 0 1 0 100 0a50 50 0 1 0 -100 0M520 775a25 25 0 1 0 50 0a25 25 0 1 0 -50 0M1780 885a20 20 0 1 0 40 0a20 20 0 1 0 -40 0M1360 1390a25 25 0 1 0 50 0a25 25 0 1 0 -50 0M1620 1490a20 20 0 1 0 40 0a20 20 0 1 0 -40 0M850 1400a20 20 0 1 0 40 0a20 20 0 1 0 -40 0" stroke="none"/></g><g fill="#00a600" stroke="#00a600" stroke-linecap="round" stroke-linejoin="round"><path d="M1300 40L1400 20L1450 80L1420 130L1330 110ZM1130 1010L1180 980L1270 990L1290 1050L1260 1100L1190 1110L1150 1080ZM960 1160L1020 1130L1080 1170L1060 1240L990 1250L920 1210Z" stroke-width="6"/><path d="M1300 40L1400 20L1450 80L1420 130L1330 110ZM1130 1010L1180 980L1270 990L1290 1050L1260 1100L1190 1110L1150 1080ZM960 1160L1020 1130L1080 1170L1060 1240L990 1250L920 1210Z" fill="none" stroke-width="28" stroke-dasharray="0 47"/><path d="M1300 40L1400 20L1450 80L1420 130L1330 110ZM1130 1010L1180 980L1270 990L1290 1050L1260 1100L1190 1110L1150 1080ZM960 1160L1020 1130L1080 1170L1060 1240L990 1250L920 1210Z" fill="none" stroke-width="22" stroke-dasharray="0 71" stroke-dashoffset="30"/><path d="M440 1150a80 80 0 1 0 160 0a80 80 0 1 0 -160 0" stroke="none"/></g><g fill="#00d000" stroke="#00d000" stroke-linecap="round" stroke-linejoin="round"><path d="M1198 175a32 32 0 1 0 64 0a32 32 0 1 0 -64 0M1382 795a28 28 0 1 0 56 0a28 28 0 1 0 -56 0M1950 945a30 30 0 1 0 60 0a30 30 0 1 0 -60 0M10 1380a50 50 0 1 0 100 0a50 50 0 1 0 -100 0" stroke="none"/></g></g><rect x="1612" y="1529" width="324" height="31" fill="#fff"/></svg>
<svg x="187" y="1128" width="493" height="394" viewBox="0 0 2048 1641" preserveAspectRatio="none"><rect width="2048" height="1641" fill="#000"/><g id="Lr1" filter="url(#rf)"><rect x="-80" y="-80" width="2208" height="1801" fill="#000"/><path d="M196 275a9 9 0 1 0 18 0a9 9 0 1 0 -18 0M915 468a13 13 0 1 0 26 0a13 13 0 1 0 -26 0M914 418a6 6 0 1 0 12 0a6 6 0 1 0 -12 0M32 885a16 16 0 1 0 32 0a16 16 0 1 0 -32 0M32 920a8 8 0 1 0 16 0a8 8 0 1 0 -16 0M149 1162a11 11 0 1 0 22 0a11 11 0 1 0 -22 0M1876 648a7 7 0 1 0 14 0a7 7 0 1 0 -14 0M177 436a5 5 0 1 0 10 0a5 5 0 1 0 -10 0" fill="#f01010"/></g><rect x="1612" y="1529" width="324" height="31" fill="#fff"/></svg>
<svg x="187" y="1531" width="493" height="394" viewBox="0 0 2048 1641" preserveAspectRatio="none"><rect width="2048" height="1641" fill="#000"/><use href="#Lg1"/><use href="#Lr1" style="mix-blend-mode:screen"/><rect x="1612" y="1529" width="324" height="31" fill="#fff"/></svg>
<svg x="689" y="724" width="493" height="395" viewBox="0 0 2048 1641" preserveAspectRatio="none"><rect width="2048" height="1641" fill="#000"/><g id="Lg2" filter="url(#gf)"><rect x="-80" y="-80" width="2208" height="1801" fill="#000500"/><g fill="#002a00" stroke="#002a00" stroke-linecap="round" stroke-linejoin="round"><path d="M10 1140a40 40 0 1 0 80 0a40 40 0 1 0 -80 0" stroke="none"/></g><g fill="#002e00" stroke="#002e00" stroke-linecap="round" stroke-linejoin="round"><path d="M550 800L650 790L700 840L640 880L560 860Z" stroke-width="6"/><path d="M550 800L650 790L700 840L640 880L560 860Z" fill="none" stroke-width="28" stroke-dasharray="0 47"/><path d="M550 800L650 790L700 840L640 880L560 860Z" fill="none" stroke-width="22" stroke-dasharray="0 71" stroke-dashoffset="30"/></g><g fill="#003e00" stroke="#003e00" stroke-linecap="round" stroke-linejoin="round"><path d="M1040 400L1100 340L1180 290L1250 230L1330 300L1340 420L1300 520L1240 560L1220 480L1100 450Z" stroke-width="6"/><path d="M1040 400L1100 340L1180 290L1250 230L1330 300L1340 420L1300 520L1240 560L1220 480L1100 450Z" fill="none" stroke-width="28" stroke-dasharray="0 47"/><path d="M1040 400L1100 340L1180 290L1250 230L1330 300L1340 420L1300 520L1240 560L1220 480L1100 450Z" fill="none" stroke-width="22" stroke-dasharray="0 71" stroke-dashoffset="30"/></g><g fill="#004000" stroke="#004000" stroke-linecap="round" stroke-linejoin="round"><path d="M300 60L360 30L460 40L480 150L440 190L400 130L310 110ZM0 430L100 400L130 340L160 380L150 480L280 540L340 450L420 400L490 450L480 540L400 580L300 620L200 640L100 580L0 560ZM740 130L790 60L830 110L920 110L940 200L880 250L800 260L730 300L690 240ZM780 380L850 350L950 370L1000 430L990 520L900 560L850 620L800 530ZM580 660L700 650L780 720L760 780L680 790L600 730ZM190 840L240 770L320 800L330 860L280 900L200 890ZM0 880L50 850L80 930L60 1020L0 1040ZM790 900L850 810L930 840L920 900L880 990L800 990ZM1450 480L1500 420L1560 450L1560 530L1500 560L1450 530ZM1050 770L1120 700L1200 650L1240 720L1200 800L1100 850ZM1740 1050L1830 1030L1890 1100L1880 1200L1800 1230L1770 1290L1720 1230L1760 1150ZM1960 1060L2048 1020L2048 1150L1980 1180L1920 1140ZM1990 830L2048 800L2048 960L2000 940ZM1900 1390L1980 1290L2048 1260L2048 1380L1960 1400ZM1390 1300L1450 1250L1530 1270L1560 1350L1540 1450L1580 1530L1550 1641L1480 1641L1410 1530L1390 1400ZM1160 1340L1210 1300L1250 1360L1240 1450L1180 1480L1150 1420ZM930 1400L980 1370L1030 1440L1090 1480L1150 1530L1140 1600L1050 1641L970 1641L960 1580L980 1500L940 1460ZM140 1350L200 1310L260 1390L340 1420L400 1500L520 1520L580 1570L540 1641L200 1641L180 1520L140 1440ZM390 1020L440 980L520 1000L560 1090L540 1180L500 1240L440 1220L430 1130L400 1080ZM1900 10L2048 10L2048 90L1960 70ZM1950 260L2010 220L2048 230L2048 300L1980 300Z" stroke-width="6"/><path d="M300 60L360 30L460 40L480 150L440 190L400 130L310 110ZM0 430L100 400L130 340L160 380L150 480L280 540L340 450L420 400L490 450L480 540L400 580L300 620L200 640L100 580L0 560ZM740 130L790 60L830 110L920 110L940 200L880 250L800 260L730 300L690 240ZM780 380L850 350L950 370L1000 430L990 520L900 560L850 620L800 530ZM580 660L700 650L780 720L760 780L680 790L600 730ZM190 840L240 770L320 800L330 860L280 900L200 890ZM0 880L50 850L80 930L60 1020L0 1040ZM790 900L850 810L930 840L920 900L880 990L800 990ZM1450 480L1500 420L1560 450L1560 530L1500 560L1450 530ZM1050 770L1120 700L1200 650L1240 720L1200 800L1100 850ZM1740 1050L1830 1030L1890 1100L1880 1200L1800 1230L1770 1290L1720 1230L1760 1150ZM1960 1060L2048 1020L2048 1150L1980 1180L1920 1140ZM1990 830L2048 800L2048 960L2000 940ZM1900 1390L1980 1290L2048 1260L2048 1380L1960 1400ZM1390 1300L1450 1250L1530 1270L1560 1350L1540 1450L1580 1530L1550 1641L1480 1641L1410 1530L1390 1400ZM1160 1340L1210 1300L1250 1360L1240 1450L1180 1480L1150 1420ZM930 1400L980 1370L1030 1440L1090 1480L1150 1530L1140 1600L1050 1641L970 1641L960 1580L980 1500L940 1460ZM140 1350L200 1310L260 1390L340 1420L400 1500L520 1520L580 1570L540 1641L200 1641L180 1520L140 1440ZM390 1020L440 980L520 1000L560 1090L540 1180L500 1240L440 1220L430 1130L400 1080ZM1900 10L2048 10L2048 90L1960 70ZM1950 260L2010 220L2048 230L2048 300L1980 300Z" fill="none" stroke-width="28" stroke-dasharray="0 47"/><path d="M300 60L360 30L460 40L480 150L440 190L400 130L310 110ZM0 430L100 400L130 340L160 380L150 480L280 540L340 450L420 400L490 450L480 540L400 580L300 620L200 640L100 580L0 560ZM740 130L790 60L830 110L920 110L940 200L880 250L800 260L730 300L690 240ZM780 380L850 350L950 370L1000 430L990 520L900 560L850 620L800 530ZM580 660L700 650L780 720L760 780L680 790L600 730ZM190 840L240 770L320 800L330 860L280 900L200 890ZM0 880L50 850L80 930L60 1020L0 1040ZM790 900L850 810L930 840L920 900L880 990L800 990ZM1450 480L1500 420L1560 450L1560 530L1500 560L1450 530ZM1050 770L1120 700L1200 650L1240 720L1200 800L1100 850ZM1740 1050L1830 1030L1890 1100L1880 1200L1800 1230L1770 1290L1720 1230L1760 1150ZM1960 1060L2048 1020L2048 1150L1980 1180L1920 1140ZM1990 830L2048 800L2048 960L2000 940ZM1900 1390L1980 1290L2048 1260L2048 1380L1960 1400ZM1390 1300L1450 1250L1530 1270L1560 1350L1540 1450L1580 1530L1550 1641L1480 1641L1410 1530L1390 1400ZM1160 1340L1210 1300L1250 1360L1240 1450L1180 1480L1150 1420ZM930 1400L980 1370L1030 1440L1090 1480L1150 1530L1140 1600L1050 1641L970 1641L960 1580L980 1500L940 1460ZM140 1350L200 1310L260 1390L340 1420L400 1500L520 1520L580 1570L540 1641L200 1641L180 1520L140 1440ZM390 1020L440 980L520 1000L560 1090L540 1180L500 1240L440 1220L430 1130L400 1080ZM1900 10L2048 10L2048 90L1960 70ZM1950 260L2010 220L2048 230L2048 300L1980 300Z" fill="none" stroke-width="22" stroke-dasharray="0 71" stroke-dashoffset="30"/><path d="M300 235a35 35 0 1 0 70 0a35 35 0 1 0 -70 0M1565 375a40 40 0 1 0 80 0a40 40 0 1 0 -80 0M1420 25a30 30 0 1 0 60 0a30 30 0 1 0 -60 0M1570 25a30 30 0 1 0 60 0a30 30 0 1 0 -60 0M1600 830a50 50 0 1 0 100 0a50 50 0 1 0 -100 0M825 1460a35 35 0 1 0 70 0a35 35 0 1 0 -70 0M1910 905a30 30 0 1 0 60 0a30 30 0 1 0 -60 0M105 360a25 25 0 1 0 50 0a25 25 0 1 0 -50 0M0 1530a20 20 0 1 0 40 0a20 20 0 1 0 -40 0M1120 1170a30 30 0 1 0 60 0a30 30 0 1 0 -60 0" stroke="none"/></g><g fill="#005300" stroke="#005300" stroke-linecap="round" stroke-linejoin="round"><path d="M1250 160L1300 100L1350 120L1330 220L1300 300L1250 280Z" stroke-width="6"/><path d="M1250 160L1300 100L1350 120L1330 220L1300 300L1250 280Z" fill="none" stroke-width="28" stroke-dasharray="0 47"/><path d="M1250 160L1300 100L1350 120L1330 220L1300 300L1250 280Z" fill="none" stroke-width="22" stroke-dasharray="0 71" stroke-dashoffset="30"/></g><g fill="#005a00" stroke="#005a00" stroke-linecap="round" stroke-linejoin="round"><path d="M220 1140L270 1100L330 1130L340 1190L290 1220L230 1200ZM890 1240L950 1190L1030 1200L1080 1270L1070 1340L1000 1370L920 1350Z" stroke-width="6"/><path d="M220 1140L270 1100L330 1130L340 1190L290 1220L230 1200ZM890 1240L950 1190L1030 1200L1080 1270L1070 1340L1000 1370L920 1350Z" fill="none" stroke-width="28" stroke-dasharray="0 47"/><path d="M220 1140L270 1100L330 1130L340 1190L290 1220L230 1200ZM890 1240L950 1190L1030 1200L1080 1270L1070 1340L1000 1370L920 1350Z" fill="none" stroke-width="22" stroke-dasharray="0 71" stroke-dashoffset="30"/></g><g fill="#006600" stroke="#006600" stroke-linecap="round" stroke-linejoin="round"><path d="M1560 190L1640 170L1700 120L1800 130L1850 190L1900 230L1870 280L1760 310L1700 260L1620 240Z" stroke-width="6"/><path d="M1560 190L1640 170L1700 120L1800 130L1850 190L1900 230L1870 280L1760 310L1700 260L1620 240Z" fill="none" stroke-width="28" stroke-dasharray="0 47"/><path d="M1560 190L1640 170L1700 120L1800 130L1850 190L1900 230L1870 280L1760 310L1700 260L1620 240Z" fill="none" stroke-width="22" stroke-dasharray="0 71" stroke-dashoffset="30"/><path d="M1135 1110a35 35 0 1 0 70 0a35 35 0 1 0 -70 0M1785 640a25 25 0 1 0 50 0a25 25 0 1 0 -50 0" stroke="none"/></g><g fill="#007300" stroke="#007300" stroke-linecap="round" stroke-linejoin="round"><path d="M940 120L1000 70L1060 110L1090 180L1060 250L1000 310L920 320L890 280L880 240L930 200ZM1710 720L1780 670L1860 670L1900 740L1890 820L1840 900L1770 910L1730 850L1710 780ZM1400 660L1480 610L1540 650L1500 700L1430 710ZM1410 1150L1450 1080L1510 1100L1500 1160L1440 1180Z" stroke-width="6"/><path d="M940 120L1000 70L1060 110L1090 180L1060 250L1000 310L920 320L890 280L880 240L930 200ZM1710 720L1780 670L1860 670L1900 740L1890 820L1840 900L1770 910L1730 850L1710 780ZM1400 660L1480 610L1540 650L1500 700L1430 710ZM1410 1150L1450 1080L1510 1100L1500 1160L1440 1180Z" fill="none" stroke-width="28" stroke-dasharray="0 47"/><path d="M940 120L1000 70L1060 110L1090 180L1060 250L1000 310L920 320L890 280L880 240L930 200ZM1710 720L1780 670L1860 670L1900 740L1890 820L1840 900L1770 910L1730 850L1710 780ZM1400 660L1480 610L1540 650L1500 700L1430 710ZM1410 1150L1450 1080L1510 1100L1500 1160L1440 1180Z" fill="none" stroke-width="22" stroke-dasharray="0 71" stroke-dashoffset="30"/></g><g fill="#007a00" stroke="#007a00" stroke-linecap="round" stroke-linejoin="round"><path d="M520 1280L560 1180L640 1130L780 1130L870 1150L900 1210L860 1290L780 1340L700 1360L600 1380L520 1340Z" stroke-width="6"/><path d="M520 1280L560 1180L640 1130L780 1130L870 1150L900 1210L860 1290L780 1340L700 1360L600 1380L520 1340Z" fill="none" stroke-width="28" stroke-dasharray="0 47"/><path d="M520 1280L560 1180L640 1130L780 1130L870 1150L900 1210L860 1290L780 1340L700 1360L600 1380L520 1340Z" fill="none" stroke-width="22" stroke-dasharray="0 71" stroke-dashoffset="30"/></g><g fill="#008000" stroke="#008000" stroke-linecap="round" stroke-linejoin="round"><path d="M1070 480L1150 460L1220 500L1220 600L1170 650L1100 700L1050 650L1050 560ZM250 1290L300 1230L370 1260L400 1330L370 1400L300 1420L250 1370Z" stroke-width="6"/><path d="M1070 480L1150 460L1220 500L1220 600L1170 650L1100 700L1050 650L1050 560ZM250 1290L300 1230L370 1260L400 1330L370 1400L300 1420L250 1370Z" fill="none" stroke-width="28" stroke-dasharray="0 47"/><path d="M1070 480L1150 460L1220 500L1220 600L1170 650L1100 700L1050 650L1050 560ZM250 1290L300 1230L370 1260L400 1330L370 1400L300 1420L250 1370Z" fill="none" stroke-width="22" stroke-dasharray="0 71" stroke-dashoffset="30"/><path d="M1595 640a25 25 0 1 0 50 0a25 25 0 1 0 -50 0M585 480a35 35 0 1 0 70 0a35 35 0 1 0 -70 0M855 720a35 35 0 1 0 70 0a35 35 0 1 0 -70 0M825 690a25 25 0 1 0 50 0a25 25 0 1 0 -50 0" stroke="none"/></g><g fill="#008f00" stroke="#008f00" stroke-linecap="round" stroke-linejoin="round"><path d="M1880 620L1930 570L1990 600L2010 660L1980 710L1920 720L1880 680Z" stroke-width="6"/><path d="M1880 620L1930 570L1990 600L2010 660L1980 710L1920 720L1880 680Z" fill="none" stroke-width="28" stroke-dasharray="0 47"/><path d="M1880 620L1930 570L1990 600L2010 660L1980 710L1920 720L1880 680Z" fill="none" stroke-width="22" stroke-dasharray="0 71" stroke-dashoffset="30"/><path d="M1435 870a45 45 0 1 0 90 0a45 45 0 1 0 -90 0" stroke="none"/></g><g fill="#009700" stroke="#009700" stroke-linecap="round" stroke-linejoin="round"><path d="M1020 920L1060 860L1130 880L1200 920L1240 980L1220 1040L1150 1070L1080 1060L1030 1000ZM1280 900L1310 820L1380 800L1440 880L1450 960L1400 1010L1320 1020L1280 980Z" stroke-width="6"/><path d="M1020 920L1060 860L1130 880L1200 920L1240 980L1220 1040L1150 1070L1080 1060L1030 1000ZM1280 900L1310 820L1380 800L1440 880L1450 960L1400 1010L1320 1020L1280 980Z" fill="none" stroke-width="28" stroke-dasharray="0 47"/><path d="M1020 920L1060 860L1130 880L1200 920L1240 980L1220 1040L1150 1070L1080 1060L1030 1000ZM1280 900L1310 820L1380 800L1440 880L1450 960L1400 1010L1320 1020L1280 980Z" fill="none" stroke-width="22" stroke-dasharray="0 71" stroke-dashoffset="30"/></g><g fill="#009e00" stroke="#009e00" stroke-linecap="round" stroke-linejoin="round"><path d="M1260 660L1310 620L1380 650L1400 720L1360 780L1290 770L1260 720Z" stroke-width="6"/><path d="M1260 660L1310 620L1380 650L1400 720L1360 780L1290 770L1260 720Z" fill="none" stroke-width="28" stroke-dasharray="0 47"/><path d="M1260 660L1310 620L1380 650L1400 720L1360 780L1290 770L1260 720Z" fill="none" stroke-width="22" stroke-dasharray="0 71" stroke-dashoffset="30"/></g><g fill="#00a600" stroke="#00a600" stroke-linecap="round" stroke-linejoin="round"><path d="M1300 60L1350 50L1380 130L1340 150L1300 110Z" stroke-width="6"/><path d="M1300 60L1350 50L1380 130L1340 150L1300 110Z" fill="none" stroke-width="28" stroke-dasharray="0 47"/><path d="M1300 60L1350 50L1380 130L1340 150L1300 110Z" fill="none" stroke-width="22" stroke-dasharray="0 71" stroke-dashoffset="30"/><path d="M605 590a45 45 0 1 0 90 0a45 45 0 1 0 -90 0M100 1060a30 30 0 1 0 60 0a30 30 0 1 0 -60 0M145 1040a25 25 0 1 0 50 0a25 25 0 1 0 -50 0M135 1100a25 25 0 1 0 50 0a25 25 0 1 0 -50 0M940 790a30 30 0 1 0 60 0a30 30 0 1 0 -60 0M995 800a25 25 0 1 0 50 0a25 25 0 1 0 -50 0M970 20a30 30 0 1 0 60 0a30 30 0 1 0 -60 0M872 255a28 28 0 1 0 56 0a28 28 0 1 0 -56 0" stroke="none"/></g><g fill="#00ae00" stroke="#00ae00" stroke-linecap="round" stroke-linejoin="round"><path d="M410 1400L450 1340L530 1350L580 1410L560 1470L490 1500L420 1470Z" stroke-width="6"/><path d="M410 1400L450 1340L530 1350L580 1410L560 1470L490 1500L420 1470Z" fill="none" stroke-width="28" stroke-dasharray="0 47"/><path d="M410 1400L450 1340L530 1350L580 1410L560 1470L490 1500L420 1470Z" fill="none" stroke-width="22" stroke-dasharray="0 71" stroke-dashoffset="30"/></g><g fill="#00b700" stroke="#00b700" stroke-linecap="round" stroke-linejoin="round"><path d="M1480 1010L1540 920L1620 900L1690 950L1720 1020L1690 1080L1620 1090L1540 1070Z" stroke-width="6"/><path d="M1480 1010L1540 920L1620 900L1690 950L1720 1020L1690 1080L1620 1090L1540 1070Z" fill="none" stroke-width="28" stroke-dasharray="0 47"/><path d="M1480 1010L1540 920L1620 900L1690 950L1720 1020L1690 1080L1620 1090L1540 1070Z" fill="none" stroke-width="22" stroke-dasharray="0 71" stroke-dashoffset="30"/><path d="M1020 870a30 30 0 1 0 60 0a30 30 0 1 0 -60 0" stroke="none"/></g><g fill="#00bb00" stroke="#00bb00" stroke-linecap="round" stroke-linejoin="round"><path d="M1205 1150a45 45 0 1 0 90 0a45 45 0 1 0 -90 0M475 820a25 25 0 1 0 50 0a25 25 0 1 0 -50 0M460 950a30 30 0 1 0 60 0a30 30 0 1 0 -60 0" stroke="none"/></g><g fill="#00bf00" stroke="#00bf00" stroke-linecap="round" stroke-linejoin="round"><path d="M1520 740L1570 700L1620 740L1600 800L1560 830L1520 790Z" stroke-width="6"/><path d="M1520 740L1570 700L1620 740L1600 800L1560 830L1520 790Z" fill="none" stroke-width="28" stroke-dasharray="0 47"/><path d="M1520 740L1570 700L1620 740L1600 800L1560 830L1520 790Z" fill="none" stroke-width="22" stroke-dasharray="0 71" stroke-dashoffset="30"/><path d="M500 600a55 55 0 1 0 110 0a55 55 0 1 0 -110 0" stroke="none"/></g><g fill="#00c800" stroke="#00c800" stroke-linecap="round" stroke-linejoin="round"><path d="M720 620L770 540L830 590L820 660L780 700L720 670Z" stroke-width="6"/><path d="M720 620L770 540L830 590L820 660L780 700L720 670Z" fill="none" stroke-width="28" stroke-dasharray="0 47"/><path d="M720 620L770 540L830 590L820 660L780 700L720 670Z" fill="none" stroke-width="22" stroke-dasharray="0 71" stroke-dashoffset="30"/><path d="M420 920a40 40 0 1 0 80 0a40 40 0 1 0 -80 0" stroke="none"/></g><g fill="#00d000" stroke="#00d000" stroke-linecap="round" stroke-linejoin="round"><path d="M0 1210L70 1190L120 1230L100 1270L0 1280Z" stroke-width="6"/><path d="M0 1210L70 1190L120 1230L100 1270L0 1280Z" fill="none" stroke-width="28" stroke-dasharray="0 47"/><path d="M0 1210L70 1190L120 1230L100 1270L0 1280Z" fill="none" stroke-width="22" stroke-dasharray="0 71" stroke-dashoffset="30"/><path d="M462 780a28 28 0 1 0 56 0a28 28 0 1 0 -56 0M1285 1250a55 55 0 1 0 110 0a55 55 0 1 0 -110 0M1225 860a25 25 0 1 0 50 0a25 25 0 1 0 -50 0" stroke="none"/></g></g><rect x="1612" y="1529" width="324" height="31" fill="#fff"/></svg>
<svg x="689" y="1128" width="493" height="394" viewBox="0 0 2048 1641" preserveAspectRatio="none"><rect width="2048" height="1641" fill="#000"/><g id="Lr2" filter="url(#rf)"><rect x="-80" y="-80" width="2208" height="1801" fill="#000"/><g fill="url(#rd)" stroke="url(#rd)" stroke-linecap="round" stroke-linejoin="round" opacity="0.07"><path d="M440 660L520 630L700 620L850 630L890 690L850 750L700 740L500 760L440 710Z" stroke-width="10"/></g><g fill="url(#rd)" stroke="url(#rd)" stroke-linecap="round" stroke-linejoin="round" opacity="0.09"><path d="M870 380L920 330L1000 340L1050 370L960 440L880 450ZM1940 590L2040 600L2030 640L1950 630Z" stroke-width="10"/><path d="M900 870a25 25 0 1 0 50 0a25 25 0 1 0 -50 0" stroke="none"/></g><g fill="url(#rd)" stroke="url(#rd)" stroke-linecap="round" stroke-linejoin="round" opacity="0.11"><path d="M480 990L560 1020L640 1040L700 1100L750 1150L740 1220L690 1240L620 1170L540 1110L490 1050Z" stroke-width="10"/></g><g fill="url(#rd)" stroke="url(#rd)" stroke-linecap="round" stroke-linejoin="round" opacity="0.13"><path d="M940 20L1050 10L1080 60L1040 110L960 100ZM1500 1050L1560 1050L1640 1075L1570 1100L1560 1170L1520 1180ZM1020 1290L1060 1240L1140 1250L1170 1300L1120 1340L1050 1330Z" stroke-width="10"/></g><g fill="url(#rd)" stroke="url(#rd)" stroke-linecap="round" stroke-linejoin="round" opacity="0.18"><path d="M1190 40L1260 30L1320 100L1330 170L1280 220L1230 160L1190 100ZM1670 130L1740 100L1840 140L1880 190L1850 220L1760 180L1670 170Z" stroke-width="10"/></g><g fill="url(#rd)" stroke="url(#rd)" stroke-linecap="round" stroke-linejoin="round" opacity="0.21"><path d="M1700 300L1780 270L1880 280L1920 350L1880 410L1780 400L1710 350ZM1630 560L1700 540L1780 620L1870 630L1840 700L1800 760L1790 830L1700 880L1640 890L1640 780L1660 680L1620 620ZM1310 540L1380 500L1430 560L1440 640L1470 700L1460 780L1420 800L1400 720L1360 650L1310 600ZM300 1490L380 1480L450 1480L510 1560L480 1600L400 1580L330 1600L260 1637L210 1620L240 1570Z" stroke-width="10"/></g><g fill="url(#rd)" stroke="url(#rd)" stroke-linecap="round" stroke-linejoin="round" opacity="0.27"><path d="M590 420L640 440L670 500L740 470L780 440L800 510L750 530L660 525L600 450ZM850 980L930 930L1000 980L1040 1060L1050 1130L1020 1210L950 1220L860 1170L790 1140L800 1060ZM380 1270L450 1220L520 1250L560 1320L530 1370L440 1360L380 1320Z" stroke-width="10"/></g><g fill="url(#rd)" stroke="url(#rd)" stroke-linecap="round" stroke-linejoin="round" opacity="0.38"><path d="M920 640L990 600L1100 610L1140 700L1060 750L1000 740L930 680Z" stroke-width="10"/></g><g fill="url(#rd)" stroke="url(#rd)" stroke-linecap="round" stroke-linejoin="round" opacity="0.46"><path d="M1350 335a25 25 0 1 0 50 0a25 25 0 1 0 -50 0M1727 1140a18 18 0 1 0 36 0a18 18 0 1 0 -36 0" stroke="none"/></g><g fill="url(#rd)" stroke="url(#rd)" stroke-linecap="round" stroke-linejoin="round" opacity="0.71"><path d="M1040 200L1100 180L1150 230L1170 280L1200 320L1100 310L1000 300L1020 250ZM1790 470L1840 450L1860 520L1840 600L1780 610L1770 540ZM0 1100L60 1060L140 1110L160 1180L250 1220L240 1260L170 1270L120 1330L130 1400L180 1450L150 1510L60 1500L0 1480ZM270 1440L320 1390L390 1400L380 1440L300 1470Z" stroke-width="10"/></g><g fill="url(#rd)" stroke="url(#rd)" stroke-linecap="round" stroke-linejoin="round" opacity="1.0"><path d="M1040 880L1090 850L1180 860L1250 830L1280 880L1260 920L1190 900L1100 880ZM1270 970L1400 930L1420 960L1390 1050L1420 1130L1410 1190L1350 1220L1280 1250L1200 1220L1180 1170L1230 1110L1260 1050Z" stroke-width="10"/></g><path d="M1508 1065a17 17 0 1 0 34 0a17 17 0 1 0 -34 0" fill="#f01010"/></g><rect x="1612" y="1529" width="324" height="31" fill="#fff"/></svg>
<svg x="689" y="1531" width="493" height="394" viewBox="0 0 2048 1641" preserveAspectRatio="none"><rect width="2048" height="1641" fill="#000"/><use href="#Lg2"/><use href="#Lg2" style="mix-blend-mode:screen" opacity="0.3"/><use href="#Lr2" style="mix-blend-mode:screen"/><use href="#Lr2" style="mix-blend-mode:screen" opacity="0.7"/><rect x="1612" y="1529" width="324" height="31" fill="#fff"/></svg>
<svg x="1191" y="724" width="493" height="393.5" viewBox="0 0 2048 1641" preserveAspectRatio="none"><rect width="2048" height="1641" fill="#000"/><g id="Lg3" filter="url(#gf)"><rect x="-80" y="-80" width="2208" height="1801" fill="#000300"/><g fill="#002a00" stroke="#002a00" stroke-linecap="round" stroke-linejoin="round"><path d="M205 680a25 25 0 1 0 50 0a25 25 0 1 0 -50 0" stroke="none"/></g><g fill="#004000" stroke="#004000" stroke-linecap="round" stroke-linejoin="round"><path d="M340 700L390 650L480 650L540 690L530 745L460 750L365 760ZM340 1637L385 1605L465 1615L475 1637Z" stroke-width="6"/><path d="M340 700L390 650L480 650L540 690L530 745L460 750L365 760ZM340 1637L385 1605L465 1615L475 1637Z" fill="none" stroke-width="28" stroke-dasharray="0 47"/><path d="M340 700L390 650L480 650L540 690L530 745L460 750L365 760ZM340 1637L385 1605L465 1615L475 1637Z" fill="none" stroke-width="22" stroke-dasharray="0 71" stroke-dashoffset="30"/></g><g fill="#004d00" stroke="#004d00" stroke-linecap="round" stroke-linejoin="round"><path d="M875 625L925 570L1050 560L1120 595L1155 690L1110 750L1055 800L1035 870L995 880L975 825L905 790L870 720Z" stroke-width="6"/><path d="M875 625L925 570L1050 560L1120 595L1155 690L1110 750L1055 800L1035 870L995 880L975 825L905 790L870 720Z" fill="none" stroke-width="28" stroke-dasharray="0 47"/><path d="M875 625L925 570L1050 560L1120 595L1155 690L1110 750L1055 800L1035 870L995 880L975 825L905 790L870 720Z" fill="none" stroke-width="22" stroke-dasharray="0 71" stroke-dashoffset="30"/><path d="M1575 125a25 25 0 1 0 50 0a25 25 0 1 0 -50 0M1222 1385a18 18 0 1 0 36 0a18 18 0 1 0 -36 0" stroke="none"/></g><g fill="#006000" stroke="#006000" stroke-linecap="round" stroke-linejoin="round"><path d="M1030 105L1100 90L1140 115L1125 145L1050 155ZM1060 285L1100 260L1130 290L1115 355L1075 390L1050 340Z" stroke-width="6"/><path d="M1030 105L1100 90L1140 115L1125 145L1050 155ZM1060 285L1100 260L1130 290L1115 355L1075 390L1050 340Z" fill="none" stroke-width="28" stroke-dasharray="0 47"/><path d="M1030 105L1100 90L1140 115L1125 145L1050 155ZM1060 285L1100 260L1130 290L1115 355L1075 390L1050 340Z" fill="none" stroke-width="22" stroke-dasharray="0 71" stroke-dashoffset="30"/><path d="M1725 450a55 55 0 1 0 110 0a55 55 0 1 0 -110 0M1692 570a18 18 0 1 0 36 0a18 18 0 1 0 -36 0M1425 990a25 25 0 1 0 50 0a25 25 0 1 0 -50 0M1160 1090a30 30 0 1 0 60 0a30 30 0 1 0 -60 0" stroke="none"/></g><g fill="#007300" stroke="#007300" stroke-linecap="round" stroke-linejoin="round"><path d="M1485 770a35 35 0 1 0 70 0a35 35 0 1 0 -70 0M1115 1030a55 55 0 1 0 110 0a55 55 0 1 0 -110 0M1190 1050a50 50 0 1 0 100 0a50 50 0 1 0 -100 0" stroke="none"/></g><g fill="#008000" stroke="#008000" stroke-linecap="round" stroke-linejoin="round"><path d="M1160 415L1200 380L1280 410L1325 445L1340 500L1305 530L1230 530L1170 495Z" stroke-width="6"/><path d="M1160 415L1200 380L1280 410L1325 445L1340 500L1305 530L1230 530L1170 495Z" fill="none" stroke-width="28" stroke-dasharray="0 47"/><path d="M1160 415L1200 380L1280 410L1325 445L1340 500L1305 530L1230 530L1170 495Z" fill="none" stroke-width="22" stroke-dasharray="0 71" stroke-dashoffset="30"/><path d="M970 100a30 30 0 1 0 60 0a30 30 0 1 0 -60 0M1500 115a30 30 0 1 0 60 0a30 30 0 1 0 -60 0M1950 60a40 40 0 1 0 80 0a40 40 0 1 0 -80 0M1045 450a45 45 0 1 0 90 0a45 45 0 1 0 -90 0M1055 500a25 25 0 1 0 50 0a25 25 0 1 0 -50 0M98 785a50 50 0 1 0 100 0a50 50 0 1 0 -100 0M-35 685a45 45 0 1 0 90 0a45 45 0 1 0 -90 0M1672 630a28 28 0 1 0 56 0a28 28 0 1 0 -56 0M1728 545a22 22 0 1 0 44 0a22 22 0 1 0 -44 0M1190 890a20 20 0 1 0 40 0a20 20 0 1 0 -40 0M1420 930a40 40 0 1 0 80 0a40 40 0 1 0 -80 0" stroke="none"/></g><g fill="#008800" stroke="#008800" stroke-linecap="round" stroke-linejoin="round"><path d="M595 700L655 610L735 580L760 650L740 735L685 790L640 830L600 785Z" stroke-width="6"/><path d="M595 700L655 610L735 580L760 650L740 735L685 790L640 830L600 785Z" fill="none" stroke-width="28" stroke-dasharray="0 47"/><path d="M595 700L655 610L735 580L760 650L740 735L685 790L640 830L600 785Z" fill="none" stroke-width="22" stroke-dasharray="0 71" stroke-dashoffset="30"/><path d="M1290 1070a60 60 0 1 0 120 0a60 60 0 1 0 -120 0" stroke="none"/></g><g fill="#009300" stroke="#009300" stroke-linecap="round" stroke-linejoin="round"><path d="M760 500a40 40 0 1 0 80 0a40 40 0 1 0 -80 0M925 470a35 35 0 1 0 70 0a35 35 0 1 0 -70 0M910 510a30 30 0 1 0 60 0a30 30 0 1 0 -60 0M1185 1250a55 55 0 1 0 110 0a55 55 0 1 0 -110 0M1275 1260a25 25 0 1 0 50 0a25 25 0 1 0 -50 0M570 1500a25 25 0 1 0 50 0a25 25 0 1 0 -50 0M610 1490a25 25 0 1 0 50 0a25 25 0 1 0 -50 0M1285 50a25 25 0 1 0 50 0a25 25 0 1 0 -50 0M1230 100a20 20 0 1 0 40 0a20 20 0 1 0 -40 0M1370 700a60 60 0 1 0 120 0a60 60 0 1 0 -120 0M1590 630a30 30 0 1 0 60 0a30 30 0 1 0 -60 0M1735 500a25 25 0 1 0 50 0a25 25 0 1 0 -50 0M1145 850a35 35 0 1 0 70 0a35 35 0 1 0 -70 0" stroke="none"/></g><g fill="#009700" stroke="#009700" stroke-linecap="round" stroke-linejoin="round"><path d="M1570 680a60 60 0 1 0 120 0a60 60 0 1 0 -120 0" stroke="none"/></g><g fill="#009e00" stroke="#009e00" stroke-linecap="round" stroke-linejoin="round"><path d="M1485 650a45 45 0 1 0 90 0a45 45 0 1 0 -90 0" stroke="none"/></g><g fill="#00a600" stroke="#00a600" stroke-linecap="round" stroke-linejoin="round"><path d="M770 1510L740 1570" fill="none" stroke-width="40"/><path d="M270 380a40 40 0 1 0 80 0a40 40 0 1 0 -80 0M285 430a35 35 0 1 0 70 0a35 35 0 1 0 -70 0M195 410a25 25 0 1 0 50 0a25 25 0 1 0 -50 0M220 470a30 30 0 1 0 60 0a30 30 0 1 0 -60 0M765 570a35 35 0 1 0 70 0a35 35 0 1 0 -70 0M740 860a30 30 0 1 0 60 0a30 30 0 1 0 -60 0M225 1200a25 25 0 1 0 50 0a25 25 0 1 0 -50 0M1040 1340a30 30 0 1 0 60 0a30 30 0 1 0 -60 0M965 1340a25 25 0 1 0 50 0a25 25 0 1 0 -50 0M875 1510a20 20 0 1 0 40 0a20 20 0 1 0 -40 0M928 1550a22 22 0 1 0 44 0a22 22 0 1 0 -44 0M1180 20a50 50 0 1 0 100 0a50 50 0 1 0 -100 0M1150 80a40 40 0 1 0 80 0a40 40 0 1 0 -80 0M1115 855a25 25 0 1 0 50 0a25 25 0 1 0 -50 0" stroke="none"/></g><g fill="#00b700" stroke="#00b700" stroke-linecap="round" stroke-linejoin="round"><path d="M788 360a42 42 0 1 0 84 0a42 42 0 1 0 -84 0" stroke="none"/></g><g fill="#00bb00" stroke="#00bb00" stroke-linecap="round" stroke-linejoin="round"><path d="M440 960L480 920L570 905L605 960L600 1040L560 1070L500 1090L455 1055L435 1010Z" stroke-width="6"/><path d="M440 960L480 920L570 905L605 960L600 1040L560 1070L500 1090L455 1055L435 1010Z" fill="none" stroke-width="28" stroke-dasharray="0 47"/><path d="M440 960L480 920L570 905L605 960L600 1040L560 1070L500 1090L455 1055L435 1010Z" fill="none" stroke-width="22" stroke-dasharray="0 71" stroke-dashoffset="30"/><path d="M975 490a35 35 0 1 0 70 0a35 35 0 1 0 -70 0M710 810a40 40 0 1 0 80 0a40 40 0 1 0 -80 0M990 1320a40 40 0 1 0 80 0a40 40 0 1 0 -80 0M860 1580a30 30 0 1 0 60 0a30 30 0 1 0 -60 0M388 1565a22 22 0 1 0 44 0a22 22 0 1 0 -44 0M1115 20a35 35 0 1 0 70 0a35 35 0 1 0 -70 0" stroke="none"/></g><g fill="#00c800" stroke="#00c800" stroke-linecap="round" stroke-linejoin="round"><path d="M780 795a45 45 0 1 0 90 0a45 45 0 1 0 -90 0" stroke="none"/></g><g fill="#00d000" stroke="#00d000" stroke-linecap="round" stroke-linejoin="round"><path d="M0 1000L45 1000L70 1030L55 1080L80 1140L60 1180L0 1170Z" stroke-width="6"/><path d="M0 1000L45 1000L70 1030L55 1080L80 1140L60 1180L0 1170Z" fill="none" stroke-width="28" stroke-dasharray="0 47"/><path d="M0 1000L45 1000L70 1030L55 1080L80 1140L60 1180L0 1170Z" fill="none" stroke-width="22" stroke-dasharray="0 71" stroke-dashoffset="30"/><path d="M290 290a40 40 0 1 0 80 0a40 40 0 1 0 -80 0M370 305a30 30 0 1 0 60 0a30 30 0 1 0 -60 0M490 530a40 40 0 1 0 80 0a40 40 0 1 0 -80 0M540 540a40 40 0 1 0 80 0a40 40 0 1 0 -80 0M492 1105a18 18 0 1 0 36 0a18 18 0 1 0 -36 0M160 950a40 40 0 1 0 80 0a40 40 0 1 0 -80 0M140 990a40 40 0 1 0 80 0a40 40 0 1 0 -80 0M90 1010a30 30 0 1 0 60 0a30 30 0 1 0 -60 0M165 1180a35 35 0 1 0 70 0a35 35 0 1 0 -70 0M125 1230a45 45 0 1 0 90 0a45 45 0 1 0 -90 0M970 1390a40 40 0 1 0 80 0a40 40 0 1 0 -80 0M1250 1250a20 20 0 1 0 40 0a20 20 0 1 0 -40 0M1268 110a22 22 0 1 0 44 0a22 22 0 1 0 -44 0" stroke="none"/></g></g><rect x="1612" y="1528" width="324" height="31" fill="#fff"/></svg>
<svg x="1191" y="1128" width="493" height="394" viewBox="0 0 2048 1641" preserveAspectRatio="none"><rect width="2048" height="1641" fill="#000"/><g id="Lr3" filter="url(#rf)"><rect x="-80" y="-80" width="2208" height="1801" fill="#000"/><g fill="url(#rd)" stroke="url(#rd)" stroke-linecap="round" stroke-linejoin="round" opacity="0.05"><path d="M40 620L120 520L280 480L260 560L120 620Z" stroke-width="10"/></g><g fill="url(#rd)" stroke="url(#rd)" stroke-linecap="round" stroke-linejoin="round" opacity="0.13"><path d="M1020 640a20 20 0 1 0 40 0a20 20 0 1 0 -40 0M1318 1200a22 22 0 1 0 44 0a22 22 0 1 0 -44 0" stroke="none"/></g><g fill="url(#rd)" stroke="url(#rd)" stroke-linecap="round" stroke-linejoin="round" opacity="0.27"><path d="M1257 550a18 18 0 1 0 36 0a18 18 0 1 0 -36 0" stroke="none"/></g><g fill="url(#rd)" stroke="url(#rd)" stroke-linecap="round" stroke-linejoin="round" opacity="0.3"><path d="M1230 200L1400 260L1600 200L1700 150L1850 90L1980 100L2048 120L2048 450L1960 470L1850 440L1750 520L1700 600L1600 630L1500 560L1380 470L1300 420L1200 360Z" stroke-width="10"/></g><g fill="url(#rd)" stroke="url(#rd)" stroke-linecap="round" stroke-linejoin="round" opacity="0.38"><path d="M1400 690L1480 680L1490 760L1500 850L1440 900L1400 980L1300 1020L1250 940L1250 870L1320 800L1360 740Z" stroke-width="10"/></g><g fill="url(#rd)" stroke="url(#rd)" stroke-linecap="round" stroke-linejoin="round" opacity="0.46"><path d="M1340 10L1540 10L1560 100L1520 180L1420 190L1300 130L1240 120L1180 140L1260 100Z" stroke-width="10"/><path d="M727 560a28 28 0 1 0 56 0a28 28 0 1 0 -56 0M847 575a18 18 0 1 0 36 0a18 18 0 1 0 -36 0M1130 630a20 20 0 1 0 40 0a20 20 0 1 0 -40 0M852 1545a18 18 0 1 0 36 0a18 18 0 1 0 -36 0" stroke="none"/></g><g fill="url(#rd)" stroke="url(#rd)" stroke-linecap="round" stroke-linejoin="round" opacity="0.6"><path d="M0 1060L80 1040L120 1060L190 1080L180 1170L100 1180L60 1210L0 1140Z" stroke-width="10"/></g><g fill="url(#rd)" stroke="url(#rd)" stroke-linecap="round" stroke-linejoin="round" opacity="0.71"><path d="M1400 400L1500 340L1700 290L1850 280L1880 340L1700 400L1600 440L1450 460ZM1140 1320L1250 1330L1260 1360L1180 1400L1160 1460L1240 1500L1290 1580L1280 1637L960 1637L940 1570L980 1490L1060 1440L1080 1380ZM560 1540L620 1550L700 1570L720 1610L660 1637L540 1637Z" stroke-width="10"/></g><g fill="url(#rd)" stroke="url(#rd)" stroke-linecap="round" stroke-linejoin="round" opacity="1.0"><path d="M900 50L960 40L1000 150L1060 180L1160 170L1230 200L1260 280L1200 340L1080 360L1040 420L980 470L930 520L880 500L860 440L820 390L830 300L860 230L910 170ZM380 380L460 320L500 350L490 440L530 470L510 560L520 640L450 630L330 640L240 680L180 760L130 760L80 690L60 640L150 600L260 540L300 490L380 450ZM670 870L720 880L740 960L770 1020L820 1100L790 1130L720 1080L650 1040L630 950ZM600 1120L700 1110L770 1180L720 1260L700 1320L640 1370L540 1370L470 1330L400 1350L370 1440L350 1540L280 1600L200 1620L150 1560L180 1480L200 1380L180 1280L280 1240L400 1190L520 1170Z" stroke-width="10"/></g><path d="M810 1500a10 10 0 1 0 20 0a10 10 0 1 0 -20 0M539 988a9 9 0 1 0 18 0a9 9 0 1 0 -18 0" fill="#f01010"/></g><rect x="1612" y="1529" width="324" height="31" fill="#fff"/></svg>
<svg x="1191" y="1531" width="493" height="394" viewBox="0 0 2048 1641" preserveAspectRatio="none"><rect width="2048" height="1641" fill="#000"/><use href="#Lg3"/><use href="#Lg3" style="mix-blend-mode:screen" opacity="0.3"/><use href="#Lr3" style="mix-blend-mode:screen"/><use href="#Lr3" style="mix-blend-mode:screen" opacity="0.7"/><rect x="1612" y="1529" width="324" height="31" fill="#fff"/></svg>
<svg x="1693" y="720" width="493" height="395.5" viewBox="0 0 2048 1641" preserveAspectRatio="none"><rect width="2048" height="1641" fill="#000"/><g id="Lg4" filter="url(#gf)"><rect x="-80" y="-80" width="2208" height="1801" fill="#000100"/><g fill="#001d00" stroke="#001d00" stroke-linecap="round" stroke-linejoin="round"><path d="M247 500a28 28 0 1 0 56 0a28 28 0 1 0 -56 0" stroke="none"/></g><g fill="#004000" stroke="#004000" stroke-linecap="round" stroke-linejoin="round"><path d="M1818 365a32 32 0 1 0 64 0a32 32 0 1 0 -64 0" stroke="none"/></g><g fill="#006600" stroke="#006600" stroke-linecap="round" stroke-linejoin="round"><path d="M1945 190a55 55 0 1 0 110 0a55 55 0 1 0 -110 0M1820 270a50 50 0 1 0 100 0a50 50 0 1 0 -100 0" stroke="none"/></g><g fill="#009700" stroke="#009700" stroke-linecap="round" stroke-linejoin="round"><path d="M538 938a30 30 0 1 0 60 0a30 30 0 1 0 -60 0" stroke="none"/></g><g fill="#00a600" stroke="#00a600" stroke-linecap="round" stroke-linejoin="round"><path d="M1893 330a22 22 0 1 0 44 0a22 22 0 1 0 -44 0M-15 820a35 35 0 1 0 70 0a35 35 0 1 0 -70 0" stroke="none"/></g><g fill="#00b700" stroke="#00b700" stroke-linecap="round" stroke-linejoin="round"><path d="M20 840a50 50 0 1 0 100 0a50 50 0 1 0 -100 0" stroke="none"/></g></g><rect x="1612" y="1529" width="324" height="31" fill="#fff"/></svg>
<svg x="1693" y="1128" width="493" height="394" viewBox="0 0 2048 1641" preserveAspectRatio="none"><rect width="2048" height="1641" fill="#000"/><g id="Lr4" filter="url(#rf)"><rect x="-80" y="-80" width="2208" height="1801" fill="#000"/><g fill="url(#rd)" stroke="url(#rd)" stroke-linecap="round" stroke-linejoin="round" opacity="0.13"><path d="M1840 200L1900 140L1980 170L1960 250L1920 300L1850 240Z" stroke-width="10"/></g><g fill="url(#rd)" stroke="url(#rd)" stroke-linecap="round" stroke-linejoin="round" opacity="0.18"><path d="M1620 220L1700 260L1770 200L1760 300L1660 330Z" stroke-width="10"/></g><g fill="url(#rd)" stroke="url(#rd)" stroke-linecap="round" stroke-linejoin="round" opacity="0.27"><path d="M1285 680a25 25 0 1 0 50 0a25 25 0 1 0 -50 0" stroke="none"/></g><g fill="url(#rd)" stroke="url(#rd)" stroke-linecap="round" stroke-linejoin="round" opacity="0.38"><path d="M620 1240L740 1210L850 1240L930 1290L960 1380L1020 1420L1060 1470L1000 1540L950 1600L900 1637L680 1637L620 1560L550 1480L490 1370L520 1310Z" stroke-width="10"/></g><g fill="url(#rd)" stroke="url(#rd)" stroke-linecap="round" stroke-linejoin="round" opacity="0.71"><path d="M20 700L60 650L150 600L280 620L400 680L520 670L590 720L610 800L560 830L470 800L380 790L250 800L150 810L30 820ZM380 790L470 800L560 830L620 900L650 970L640 1040L650 1130L600 1170L540 1100L500 1150L440 1160L350 1100L290 980L310 920L360 870ZM980 1180L1040 1100L1130 1140L1250 1090L1320 1130L1370 1240L1350 1320L1280 1360L1160 1400L1050 1390L1000 1300L1010 1240ZM560 760L640 800L700 870L720 940L660 960L600 900Z" stroke-width="10"/><path d="M1640 350a30 30 0 1 0 60 0a30 30 0 1 0 -60 0" stroke="none"/></g><g fill="url(#rd)" stroke="url(#rd)" stroke-linecap="round" stroke-linejoin="round" opacity="1.0"><path d="M1280 10L1560 10L1600 80L1700 60L1800 30L1850 0L2030 0L1950 100L1800 120L1760 200L1700 260L1600 200L1500 180L1400 160L1300 150L1240 130ZM930 270L1040 180L1130 200L1190 210L1250 180L1300 150L1500 180L1600 200L1590 330L1600 420L1570 540L1540 580L1560 640L1500 700L1440 720L1330 730L1290 680L1350 620L1280 590L1180 600L1100 640L1030 600L1000 540L1040 500L960 460L930 380ZM860 610L940 590L980 660L1040 720L1100 780L1200 770L1310 810L1360 870L1320 940L1240 1010L1200 1030L1130 1100L1050 1040L940 1130L930 1060L800 1090L700 1090L680 1000L720 920L700 860L760 750L850 680ZM1330 560L1480 520L1560 600L1500 700L1400 760L1300 800L1240 760L1300 680Z" stroke-width="10"/></g></g><rect x="1612" y="1529" width="324" height="31" fill="#fff"/></svg>
<svg x="1693" y="1531" width="493" height="394" viewBox="0 0 2048 1641" preserveAspectRatio="none"><rect width="2048" height="1641" fill="#000"/><use href="#Lg4"/><use href="#Lr4" style="mix-blend-mode:screen"/><rect x="1612" y="1529" width="324" height="31" fill="#fff"/></svg>
<rect x="1693" y="720" width="493" height="2" fill="#707070"/>
</svg></body></html>
